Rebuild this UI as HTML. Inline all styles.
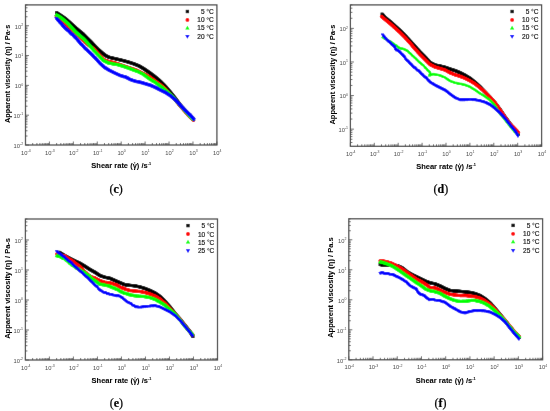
<!DOCTYPE html><html><head><meta charset="utf-8"><style>html,body{margin:0;padding:0;background:#fff;}body{width:550px;height:411px;overflow:hidden;position:relative;}#w{position:absolute;left:0;top:0;width:550px;height:411px;}svg{position:absolute;left:0;top:0;}text{font-family:"Liberation Sans",sans-serif;}</style></head><body>
<div id="w"><svg width="550" height="411" viewBox="0 0 550 411">
<defs><marker id="mck" markerUnits="userSpaceOnUse" markerWidth="10" markerHeight="10" refX="5" refY="5" overflow="visible"><rect x="3.55" y="3.55" width="2.9" height="2.9" fill="#000"/></marker><marker id="mcr" markerUnits="userSpaceOnUse" markerWidth="10" markerHeight="10" refX="5" refY="5" overflow="visible"><circle cx="5" cy="5" r="1.65" fill="#f00"/></marker><marker id="mcg" markerUnits="userSpaceOnUse" markerWidth="10" markerHeight="10" refX="5" refY="5" overflow="visible"><path d="M5 2.7484L6.95 6.1258H3.05Z" fill="#0f0"/></marker><marker id="mcb" markerUnits="userSpaceOnUse" markerWidth="10" markerHeight="10" refX="5" refY="5" overflow="visible"><path d="M5 7.2516L6.95 3.8742H3.05Z" fill="#00f"/></marker><marker id="mdk" markerUnits="userSpaceOnUse" markerWidth="10" markerHeight="10" refX="5" refY="5" overflow="visible"><rect x="3.55" y="3.55" width="2.9" height="2.9" fill="#000"/></marker><marker id="mdr" markerUnits="userSpaceOnUse" markerWidth="10" markerHeight="10" refX="5" refY="5" overflow="visible"><circle cx="5" cy="5" r="1.65" fill="#f00"/></marker><marker id="mdg" markerUnits="userSpaceOnUse" markerWidth="10" markerHeight="10" refX="5" refY="5" overflow="visible"><path d="M5 3.383466666666667L6.4 5.8082666666666665H3.6Z" fill="#0f0"/></marker><marker id="mdb" markerUnits="userSpaceOnUse" markerWidth="10" markerHeight="10" refX="5" refY="5" overflow="visible"><path d="M5 6.9052L6.65 4.0474H3.35Z" fill="#00f"/></marker><marker id="mek" markerUnits="userSpaceOnUse" markerWidth="10" markerHeight="10" refX="5" refY="5" overflow="visible"><rect x="3.55" y="3.55" width="2.9" height="2.9" fill="#000"/></marker><marker id="mer" markerUnits="userSpaceOnUse" markerWidth="10" markerHeight="10" refX="5" refY="5" overflow="visible"><circle cx="5" cy="5" r="1.65" fill="#f00"/></marker><marker id="meg" markerUnits="userSpaceOnUse" markerWidth="10" markerHeight="10" refX="5" refY="5" overflow="visible"><path d="M5 2.7484L6.95 6.1258H3.05Z" fill="#0f0"/></marker><marker id="meb" markerUnits="userSpaceOnUse" markerWidth="10" markerHeight="10" refX="5" refY="5" overflow="visible"><path d="M5 6.847466666666667L6.6 4.076266666666666H3.4Z" fill="#00f"/></marker><marker id="mfk" markerUnits="userSpaceOnUse" markerWidth="10" markerHeight="10" refX="5" refY="5" overflow="visible"><rect x="3.55" y="3.55" width="2.9" height="2.9" fill="#000"/></marker><marker id="mfr" markerUnits="userSpaceOnUse" markerWidth="10" markerHeight="10" refX="5" refY="5" overflow="visible"><circle cx="5" cy="5" r="1.65" fill="#f00"/></marker><marker id="mfg" markerUnits="userSpaceOnUse" markerWidth="10" markerHeight="10" refX="5" refY="5" overflow="visible"><path d="M5 2.7484L6.95 6.1258H3.05Z" fill="#0f0"/></marker><marker id="mfb" markerUnits="userSpaceOnUse" markerWidth="10" markerHeight="10" refX="5" refY="5" overflow="visible"><path d="M5 6.9052L6.65 4.0474H3.35Z" fill="#00f"/></marker><filter id="bl" filterUnits="userSpaceOnUse" x="0" y="0" width="550" height="411"><feConvolveMatrix order="3" kernelMatrix="0.00163 0.03713 0.00163 0.03713 0.84497 0.03713 0.00163 0.03713 0.00163" edgeMode="duplicate" preserveAlpha="true"/></filter><filter id="bt" filterUnits="userSpaceOnUse" x="0" y="0" width="550" height="411"><feConvolveMatrix order="3" kernelMatrix="0.00001 0.00381 0.00001 0.00381 0.98471 0.00381 0.00001 0.00381 0.00001" edgeMode="none" preserveAlpha="false"/></filter></defs><g filter="url(#bl)"><rect width="550" height="411" fill="#fff"/>
<g><polyline fill="none" stroke="none" marker-start="url(#mck)" marker-mid="url(#mck)" marker-end="url(#mck)" points="56.5,12.71 56.98,13.02 57.46,13.33 57.94,13.64 58.42,13.96 58.9,14.27 59.38,14.58 59.86,14.89 60.34,15.2 60.82,15.51 61.3,15.83 61.76,16.15 62.22,16.47 62.69,16.79 63.15,17.11 63.61,17.43 64.08,17.76 64.54,18.08 65,18.4 65.45,18.78 65.9,19.17 66.35,19.55 66.8,19.94 67.25,20.32 67.7,20.7 68.15,21.09 68.6,21.47 69,21.84 69.4,22.2 69.8,22.56 70.2,22.93 70.6,23.29 71,23.65 71.4,24.02 71.8,24.38 72.2,24.74 72.61,25.12 73.02,25.49 73.43,25.87 73.84,26.24 74.26,26.62 74.67,26.99 75.08,27.37 75.49,27.74 75.9,28.12 76.35,28.49 76.8,28.86 77.25,29.23 77.7,29.6 78.15,29.98 78.6,30.35 79.05,30.72 79.5,31.09 79.91,31.43 80.32,31.77 80.73,32.11 81.14,32.46 81.56,32.8 81.97,33.14 82.38,33.48 82.79,33.82 83.2,34.16 83.61,34.58 84.02,35 84.43,35.42 84.84,35.84 85.25,36.25 85.66,36.67 86.07,37.09 86.48,37.51 86.89,37.93 87.3,38.35 87.71,38.74 88.12,39.14 88.53,39.54 88.94,39.93 89.36,40.33 89.77,40.72 90.18,41.12 90.59,41.52 91,41.91 91.4,42.35 91.8,42.79 92.2,43.23 92.6,43.67 93,44.11 93.4,44.55 93.8,44.98 94.2,45.42 94.6,45.86 95,46.27 95.4,46.67 95.8,47.08 96.2,47.48 96.6,47.89 97,48.29 97.4,48.7 97.8,49.1 98.2,49.51 98.62,49.87 99.04,50.23 99.47,50.59 99.89,50.95 100.31,51.32 100.73,51.68 101.16,52.04 101.58,52.4 102,52.76 102.44,53.11 102.88,53.46 103.31,53.81 103.75,54.16 104.19,54.51 104.62,54.86 105.06,55.21 105.5,55.56 106,55.8 106.5,56.04 107,56.29 107.5,56.53 108,56.77 108.5,57.01 109,57.26 109.56,57.39 110.11,57.52 110.67,57.65 111.22,57.78 111.78,57.91 112.33,58.04 112.89,58.18 113.44,58.31 114,58.44 114.56,58.57 115.11,58.69 115.67,58.82 116.22,58.95 116.78,59.08 117.33,59.2 117.89,59.33 118.44,59.46 119,59.58 119.56,59.72 120.11,59.86 120.67,60 121.22,60.14 121.78,60.28 122.33,60.42 122.89,60.55 123.44,60.69 124,60.83 124.56,60.99 125.11,61.15 125.67,61.3 126.22,61.46 126.78,61.62 127.33,61.78 127.89,61.94 128.44,62.09 129,62.25 129.56,62.43 130.11,62.62 130.67,62.8 131.22,62.98 131.78,63.16 132.33,63.35 132.89,63.53 133.44,63.71 134,63.89 134.5,64.1 135,64.3 135.5,64.5 136,64.71 136.5,64.91 137,65.12 137.5,65.32 138,65.52 138.5,65.73 139,65.93 139.5,66.23 140,66.52 140.5,66.81 141,67.11 141.5,67.4 142,67.7 142.5,67.99 143,68.28 143.5,68.58 144,68.87 144.46,69.19 144.92,69.51 145.38,69.82 145.85,70.14 146.31,70.46 146.77,70.78 147.23,71.09 147.69,71.41 148.15,71.73 148.62,72.05 149.08,72.36 149.54,72.68 150,73 150.45,73.34 150.91,73.68 151.36,74.02 151.82,74.36 152.27,74.7 152.73,75.05 153.18,75.39 153.64,75.73 154.09,76.07 154.55,76.41 155,76.75 155.45,77.14 155.91,77.52 156.36,77.91 156.82,78.3 157.27,78.68 157.73,79.07 158.18,79.45 158.64,79.84 159.09,80.23 159.55,80.61 160,81 160.42,81.42 160.83,81.83 161.25,82.25 161.67,82.67 162.08,83.08 162.5,83.5 162.92,83.92 163.33,84.33 163.75,84.75 164.17,85.17 164.58,85.58 165,86 165.38,86.45 165.77,86.89 166.15,87.34 166.54,87.78 166.92,88.23 167.31,88.67 167.69,89.12 168.08,89.56 168.46,90.01 168.85,90.45 169.23,90.9 169.62,91.34 170,91.79 170.36,92.23 170.71,92.67 171.07,93.12 171.43,93.56 171.79,94.01 172.14,94.45 172.5,94.89 172.86,95.34 173.21,95.78 173.57,96.22 173.93,96.67 174.29,97.11 174.64,97.56 175,98 175.36,98.48 175.71,98.96 176.07,99.44 176.43,99.91 176.79,100.39 177.14,100.87 177.5,101.35 177.86,101.83 178.21,102.31 178.57,102.79 178.93,103.26 179.29,103.74 179.64,104.22 180,104.7 180.38,105.15 180.77,105.59 181.15,106.04 181.54,106.48 181.92,106.93 182.31,107.38 182.69,107.82 183.08,108.27 183.46,108.72 183.85,109.16 184.23,109.61 184.62,110.05 185,110.5 185.38,110.92 185.77,111.35 186.15,111.77 186.54,112.19 186.92,112.62 187.31,113.04 187.69,113.46 188.08,113.88 188.46,114.31 188.85,114.73 189.23,115.15 189.62,115.58 190,116 190.39,116.37 190.78,116.73 191.17,117.1 191.56,117.47 191.94,117.83 192.33,118.2 192.72,118.57 193.11,118.93 193.5,119.3"/><polyline fill="none" stroke="none" marker-start="url(#mcr)" marker-mid="url(#mcr)" marker-end="url(#mcr)" points="56.2,16.12 56.66,16.48 57.13,16.83 57.59,17.19 58.05,17.55 58.52,17.93 58.98,18.32 59.45,18.73 59.91,19.01 60.37,19.24 60.84,19.43 61.3,19.96 61.71,20.5 62.12,21.05 62.53,21.46 62.94,21.84 63.36,22.22 63.77,22.54 64.18,22.74 64.59,22.95 65,23.16 65.4,23.53 65.8,23.9 66.2,24.27 66.6,24.71 67,25.22 67.4,25.73 67.8,26.24 68.2,26.5 68.6,26.76 69,27.02 69.4,27.35 69.8,27.76 70.2,28.17 70.6,28.58 71,28.93 71.4,29.27 71.8,29.62 72.2,29.97 72.61,30.36 73.02,30.74 73.43,31.12 73.84,31.5 74.26,31.88 74.67,32.26 75.08,32.62 75.49,32.98 75.9,33.34 76.31,33.7 76.72,34.13 77.13,34.55 77.54,34.97 77.95,35.3 78.36,35.62 78.77,35.94 79.18,36.32 79.59,36.8 80,37.27 80.41,37.77 80.82,38.06 81.24,38.36 81.65,38.65 82.06,39.06 82.47,39.55 82.88,40.04 83.29,40.5 83.71,40.84 84.12,41.19 84.53,41.53 84.94,41.9 85.35,42.27 85.76,42.65 86.18,43.03 86.59,43.42 87,43.81 87.47,44.16 87.93,44.54 88.4,44.91 88.87,45.25 89.33,45.55 89.8,45.89 90.27,46.26 90.73,46.61 91.2,46.96 91.67,47.31 92.13,47.66 92.6,48.01 93.07,48.36 93.53,48.71 94,49.06 94.38,49.48 94.77,49.9 95.15,50.32 95.54,50.74 95.92,51.16 96.31,51.58 96.69,52 97.08,52.42 97.46,52.84 97.85,53.26 98.23,53.68 98.62,54.1 99,54.52 99.42,54.94 99.83,55.37 100.25,55.8 100.67,56.23 101.08,56.66 101.5,57.09 101.92,57.52 102.33,57.95 102.75,58.38 103.17,58.81 103.58,59.24 104,59.67 104.56,59.88 105.11,60.1 105.67,60.31 106.22,60.53 106.78,60.74 107.33,60.96 107.89,61.17 108.44,61.39 109,61.6 109.56,61.71 110.11,61.82 110.67,61.93 111.22,62.04 111.78,62.16 112.33,62.27 112.89,62.38 113.44,62.49 114,62.6 114.55,62.78 115.09,62.97 115.64,63.15 116.18,63.33 116.73,63.52 117.27,63.7 117.82,63.89 118.36,64.07 118.91,64.25 119.45,64.44 120,64.62 120.56,64.81 121.11,65 121.67,65.19 122.22,65.38 122.78,65.58 123.33,65.77 123.89,65.96 124.44,66.15 125,66.34 125.56,66.52 126.11,66.7 126.67,66.88 127.22,67.06 127.78,67.24 128.33,67.42 128.89,67.6 129.44,67.78 130,67.96 130.56,68.14 131.11,68.32 131.67,68.5 132.22,68.68 132.78,68.86 133.33,69.04 133.89,69.22 134.44,69.4 135,69.58 135.5,69.8 136,70.02 136.5,70.25 137,70.47 137.5,70.69 138,70.91 138.5,71.13 139,71.36 139.5,71.58 140,71.8 140.5,72.07 141,72.33 141.5,72.6 142,72.87 142.5,73.14 143,73.41 143.5,73.67 144,73.94 144.5,74.21 145,74.47 145.5,74.74 146,75.01 146.5,75.28 147,75.55 147.5,75.81 148,76.08 148.5,76.35 149,76.62 149.5,76.88 150,77.15 150.45,77.48 150.91,77.82 151.36,78.15 151.82,78.49 152.27,78.82 152.73,79.15 153.18,79.49 153.64,79.82 154.09,80.16 154.55,80.49 155,80.83 155.45,81.16 155.91,81.49 156.36,81.83 156.82,82.16 157.27,82.5 157.73,82.83 158.18,83.16 158.64,83.5 159.09,83.83 159.55,84.17 160,84.5 160.45,84.87 160.91,85.24 161.36,85.61 161.82,85.98 162.27,86.36 162.73,86.73 163.18,87.1 163.64,87.47 164.09,87.84 164.55,88.21 165,88.58 165.38,89 165.77,89.42 166.15,89.84 166.54,90.26 166.92,90.68 167.31,91.1 167.69,91.52 168.08,91.94 168.46,92.36 168.85,92.78 169.23,93.19 169.62,93.61 170,94.03 170.38,94.45 170.77,94.87 171.15,95.29 171.54,95.71 171.92,96.13 172.31,96.55 172.69,96.97 173.08,97.39 173.46,97.81 173.85,98.23 174.23,98.65 174.62,99.07 175,99.49 175.36,99.94 175.71,100.39 176.07,100.84 176.43,101.29 176.79,101.74 177.14,102.19 177.5,102.64 177.86,103.09 178.21,103.55 178.57,104 178.93,104.45 179.29,104.9 179.64,105.35 180,105.8 180.38,106.24 180.77,106.68 181.15,107.12 181.54,107.55 181.92,107.99 182.31,108.43 182.69,108.87 183.08,109.31 183.46,109.75 183.85,110.18 184.23,110.62 184.62,111.06 185,111.5 185.38,111.92 185.77,112.35 186.15,112.77 186.54,113.19 186.92,113.62 187.31,114.04 187.69,114.46 188.08,114.88 188.46,115.31 188.85,115.73 189.23,116.15 189.62,116.58 190,117 190.39,117.37 190.78,117.73 191.17,118.1 191.56,118.47 191.94,118.83 192.33,119.2 192.72,119.57 193.11,119.93 193.5,120.3"/><polyline fill="none" stroke="none" marker-start="url(#mcg)" marker-mid="url(#mcg)" marker-end="url(#mcg)" points="56.2,14.87 56.71,15.15 57.22,15.44 57.73,15.73 58.24,16.01 58.75,16.3 59.26,16.59 59.77,16.87 60.28,17.16 60.79,17.45 61.3,17.73 61.71,18.08 62.12,18.42 62.53,18.76 62.94,19.11 63.36,19.45 63.77,19.79 64.18,20.14 64.59,20.48 65,20.82 65.45,21.21 65.9,21.6 66.35,21.98 66.8,22.37 67.25,22.76 67.7,23.14 68.15,23.53 68.6,23.91 68.96,24.32 69.32,24.73 69.68,25.14 70.04,25.55 70.4,25.96 70.76,26.37 71.12,26.78 71.48,27.19 71.84,27.6 72.2,28 72.57,28.41 72.94,28.82 73.31,29.23 73.68,29.64 74.05,30.05 74.42,30.46 74.79,30.87 75.16,31.28 75.53,31.69 75.9,32.1 76.31,32.46 76.72,32.82 77.13,33.18 77.54,33.54 77.95,33.9 78.36,34.26 78.77,34.62 79.18,34.98 79.59,35.34 80,35.7 80.44,36.07 80.89,36.43 81.33,36.8 81.78,37.17 82.22,37.53 82.67,37.9 83.11,38.27 83.56,38.63 84,39 84.4,39.43 84.8,39.86 85.2,40.29 85.6,40.72 86,41.15 86.4,41.58 86.8,42.01 87.2,42.44 87.6,42.87 88,43.3 88.39,43.75 88.78,44.2 89.16,44.65 89.55,45.1 89.94,45.55 90.33,46 90.72,46.45 91.11,46.9 91.49,47.36 91.88,47.81 92.27,48.26 92.66,48.71 93.05,49.16 93.44,49.61 93.82,50.06 94.21,50.51 94.6,50.96 95,51.37 95.4,51.78 95.8,52.2 96.2,52.61 96.6,53.02 97,53.43 97.4,53.84 97.8,54.26 98.2,54.67 98.6,55.08 99,55.49 99.38,55.91 99.77,56.33 100.15,56.74 100.54,57.16 100.92,57.58 101.31,58 101.69,58.41 102.08,58.83 102.46,59.25 102.85,59.66 103.23,60.08 103.62,60.5 104,60.92 104.5,61.15 105,61.38 105.5,61.62 106,61.85 106.5,62.09 107,62.32 107.5,62.56 108,62.79 108.5,63.03 109,63.26 109.56,63.37 110.11,63.48 110.67,63.59 111.22,63.7 111.78,63.82 112.33,63.93 112.89,64.04 113.44,64.15 114,64.26 114.56,64.36 115.11,64.46 115.67,64.56 116.22,64.66 116.78,64.76 117.33,64.86 117.89,64.96 118.44,65.06 119,65.16 119.56,65.33 120.11,65.5 120.67,65.67 121.22,65.84 121.78,66.01 122.33,66.19 122.89,66.36 123.44,66.53 124,66.7 124.56,66.89 125.11,67.08 125.67,67.27 126.22,67.46 126.78,67.64 127.33,67.83 127.89,68.02 128.44,68.21 129,68.4 129.56,68.61 130.11,68.81 130.67,69.02 131.22,69.23 131.78,69.43 132.33,69.64 132.89,69.85 133.44,70.05 134,70.26 134.56,70.48 135.11,70.69 135.67,70.91 136.22,71.13 136.78,71.34 137.33,71.56 137.89,71.78 138.44,71.99 139,72.21 139.5,72.46 140,72.72 140.5,72.97 141,73.22 141.5,73.47 142,73.73 142.5,73.98 143,74.23 143.5,74.49 144,74.74 144.46,75.08 144.92,75.43 145.38,75.77 145.85,76.11 146.31,76.46 146.77,76.8 147.23,77.14 147.69,77.48 148.15,77.83 148.62,78.17 149.08,78.51 149.54,78.86 150,79.2 150.5,79.5 151,79.8 151.5,80.1 152,80.4 152.5,80.7 153,81 153.5,81.3 154,81.6 154.5,81.9 155,82.2 155.45,82.52 155.91,82.85 156.36,83.17 156.82,83.49 157.27,83.81 157.73,84.14 158.18,84.46 158.64,84.78 159.09,85.1 159.55,85.43 160,85.75 160.45,86.09 160.91,86.43 161.36,86.77 161.82,87.11 162.27,87.45 162.73,87.8 163.18,88.14 163.64,88.48 164.09,88.82 164.55,89.16 165,89.5 165.42,89.88 165.83,90.26 166.25,90.64 166.67,91.02 167.08,91.4 167.5,91.78 167.92,92.16 168.33,92.54 168.75,92.92 169.17,93.3 169.58,93.68 170,94.06 170.42,94.47 170.83,94.88 171.25,95.29 171.67,95.7 172.08,96.12 172.5,96.53 172.92,96.94 173.33,97.35 173.75,97.76 174.17,98.18 174.58,98.59 175,99 175.36,99.43 175.71,99.86 176.07,100.29 176.43,100.71 176.79,101.14 177.14,101.57 177.5,102 177.86,102.43 178.21,102.86 178.57,103.29 178.93,103.71 179.29,104.14 179.64,104.57 180,105 180.38,105.42 180.77,105.85 181.15,106.27 181.54,106.69 181.92,107.12 182.31,107.54 182.69,107.96 183.08,108.38 183.46,108.81 183.85,109.23 184.23,109.65 184.62,110.08 185,110.5 185.38,110.92 185.77,111.35 186.15,111.77 186.54,112.19 186.92,112.62 187.31,113.04 187.69,113.46 188.08,113.88 188.46,114.31 188.85,114.73 189.23,115.15 189.62,115.58 190,116 190.39,116.4 190.78,116.8 191.17,117.2 191.56,117.6 191.94,118 192.33,118.4 192.72,118.8 193.11,119.2 193.5,119.6"/><polyline fill="none" stroke="none" marker-start="url(#mcb)" marker-mid="url(#mcb)" marker-end="url(#mcb)" points="56.2,18.37 56.59,18.8 56.98,19.24 57.38,19.68 57.77,20.11 58.16,20.55 58.55,20.98 58.95,21.45 59.34,21.93 59.73,22.34 60.12,22.71 60.52,23.04 60.91,23.41 61.3,23.94 61.67,24.46 62.04,24.97 62.41,25.42 62.78,25.82 63.15,26.21 63.52,26.61 63.89,27 64.26,27.39 64.63,27.77 65,28.16 65.45,28.54 65.9,28.91 66.35,29.28 66.8,29.64 67.25,29.98 67.7,30.33 68.15,30.78 68.6,31.25 69.05,31.72 69.5,32.2 69.95,32.68 70.4,33.16 70.85,33.52 71.3,33.78 71.75,34.04 72.2,34.4 72.58,34.89 72.96,35.37 73.34,35.86 73.72,36.23 74.1,36.57 74.48,36.92 74.86,37.26 75.24,37.62 75.62,37.98 76,38.34 76.36,38.76 76.73,39.23 77.09,39.7 77.45,40.17 77.82,40.59 78.18,40.96 78.55,41.34 78.91,41.71 79.27,42.19 79.64,42.7 80,43.21 80.41,43.72 80.81,44.04 81.22,44.35 81.62,44.66 82.03,45.07 82.43,45.54 82.84,46.02 83.24,46.49 83.65,46.96 84.06,47.43 84.46,47.89 84.87,48.25 85.27,48.55 85.68,48.85 86.08,49.18 86.49,49.6 86.89,50.02 87.3,50.44 87.73,50.85 88.16,51.28 88.59,51.7 89.02,52.09 89.45,52.47 89.88,52.84 90.31,53.23 90.74,53.66 91.16,54.1 91.59,54.53 92.02,55 92.45,55.47 92.88,55.94 93.31,56.37 93.74,56.78 94.17,57.19 94.6,57.55 94.97,57.92 95.33,58.28 95.7,58.65 96.07,59.07 96.43,59.51 96.8,59.95 97.17,60.39 97.53,60.78 97.9,61.18 98.27,61.59 98.63,62.03 99,62.52 99.42,62.93 99.83,63.32 100.25,63.7 100.67,64.08 101.08,64.45 101.5,64.83 101.92,65.21 102.33,65.59 102.75,65.97 103.17,66.34 103.58,66.72 104,67.1 104.5,67.4 105,67.7 105.5,68 106,68.3 106.5,68.6 107,68.9 107.5,69.2 108,69.5 108.5,69.8 109,70.1 109.5,70.35 110,70.6 110.5,70.85 111,71.1 111.5,71.35 112,71.6 112.5,71.85 113,72.1 113.5,72.35 114,72.6 114.55,72.85 115.09,73.09 115.64,73.34 116.18,73.58 116.73,73.83 117.27,74.07 117.82,74.32 118.36,74.56 118.91,74.81 119.45,75.05 120,75.3 120.56,75.46 121.11,75.62 121.67,75.78 122.22,75.94 122.78,76.1 123.33,76.26 123.89,76.41 124.44,76.57 125,76.73 125.5,76.99 126,77.24 126.5,77.49 127,77.75 127.5,78 128,78.25 128.5,78.51 129,78.76 129.5,79.01 130,79.27 130.56,79.46 131.11,79.65 131.67,79.84 132.22,80.04 132.78,80.23 133.33,80.42 133.89,80.61 134.44,80.81 135,81 135.56,81.11 136.11,81.22 136.67,81.33 137.22,81.44 137.78,81.56 138.33,81.67 138.89,81.78 139.44,81.89 140,82 140.56,82.17 141.11,82.33 141.67,82.5 142.22,82.67 142.78,82.83 143.33,83 143.89,83.17 144.44,83.33 145,83.5 145.56,83.67 146.11,83.83 146.67,84 147.22,84.17 147.78,84.33 148.33,84.5 148.89,84.67 149.44,84.83 150,85 150.5,85.22 151,85.44 151.5,85.66 152,85.88 152.5,86.1 153,86.32 153.5,86.54 154,86.76 154.5,86.98 155,87.2 155.5,87.46 156,87.72 156.5,87.98 157,88.24 157.5,88.5 158,88.76 158.5,89.02 159,89.28 159.5,89.54 160,89.8 160.5,90.05 161,90.29 161.5,90.53 162,90.78 162.5,91.03 163,91.27 163.5,91.52 164,91.76 164.5,92 165,92.25 165.5,92.58 166,92.9 166.5,93.22 167,93.55 167.5,93.88 168,94.2 168.5,94.53 169,94.85 169.5,95.17 170,95.5 170.45,95.89 170.91,96.27 171.36,96.66 171.82,97.05 172.27,97.43 172.73,97.82 173.18,98.2 173.64,98.59 174.09,98.98 174.55,99.36 175,99.75 175.38,100.15 175.77,100.56 176.15,100.96 176.54,101.37 176.92,101.77 177.31,102.17 177.69,102.58 178.08,102.98 178.46,103.38 178.85,103.79 179.23,104.19 179.62,104.6 180,105 180.38,105.41 180.77,105.82 181.15,106.23 181.54,106.64 181.92,107.05 182.31,107.46 182.69,107.87 183.08,108.28 183.46,108.69 183.85,109.1 184.23,109.51 184.62,109.92 185,110.33 185.42,110.72 185.83,111.11 186.25,111.5 186.67,111.89 187.08,112.28 187.5,112.67 187.92,113.06 188.33,113.44 188.75,113.83 189.17,114.22 189.58,114.61 190,115 190.36,115.42 190.73,115.84 191.09,116.25 191.45,116.67 191.82,117.09 192.18,117.51 192.55,117.93 192.91,118.35 193.27,118.76 193.64,119.18 194,119.6"/><path d="M25.5 145v-3.5M32.7 145v-2M36.92 145v-2M39.9 145v-2M42.22 145v-2M44.12 145v-2M45.72 145v-2M47.11 145v-2M48.33 145v-2M49.42 145v-3.5M56.63 145v-2M60.84 145v-2M63.83 145v-2M66.15 145v-2M68.04 145v-2M69.64 145v-2M71.03 145v-2M72.26 145v-2M73.35 145v-3.5M80.55 145v-2M84.77 145v-2M87.75 145v-2M90.07 145v-2M91.97 145v-2M93.57 145v-2M94.96 145v-2M96.18 145v-2M97.28 145v-3.5M104.48 145v-2M108.69 145v-2M111.68 145v-2M114 145v-2M115.89 145v-2M117.49 145v-2M118.88 145v-2M120.11 145v-2M121.2 145v-3.5M128.4 145v-2M132.62 145v-2M135.6 145v-2M137.92 145v-2M139.82 145v-2M141.42 145v-2M142.81 145v-2M144.03 145v-2M145.12 145v-3.5M152.33 145v-2M156.54 145v-2M159.53 145v-2M161.85 145v-2M163.74 145v-2M165.34 145v-2M166.73 145v-2M167.96 145v-2M169.05 145v-3.5M176.25 145v-2M180.47 145v-2M183.45 145v-2M185.77 145v-2M187.67 145v-2M189.27 145v-2M190.66 145v-2M191.88 145v-2M192.97 145v-3.5M200.18 145v-2M204.39 145v-2M207.38 145v-2M209.7 145v-2M211.59 145v-2M213.19 145v-2M214.58 145v-2M215.81 145v-2M216.9 145v-3.5M25.5 145h3.5M25.5 136.02h2M25.5 130.77h2M25.5 127.05h2M25.5 124.16h2M25.5 121.8h2M25.5 119.8h2M25.5 118.07h2M25.5 116.55h2M25.5 115.18h3.5M25.5 106.21h2M25.5 100.96h2M25.5 97.23h2M25.5 94.35h2M25.5 91.98h2M25.5 89.99h2M25.5 88.26h2M25.5 86.73h2M25.5 85.37h3.5M25.5 76.39h2M25.5 71.14h2M25.5 67.42h2M25.5 64.53h2M25.5 62.17h2M25.5 60.17h2M25.5 58.44h2M25.5 56.92h2M25.5 55.55h3.5M25.5 46.58h2M25.5 41.33h2M25.5 37.6h2M25.5 34.72h2M25.5 32.35h2M25.5 30.36h2M25.5 28.63h2M25.5 27.1h2M25.5 25.74h3.5M25.5 16.76h2M25.5 11.51h2M25.5 7.79h2M25.5 4.9h2" stroke="#454545" stroke-width="0.8" fill="none"/><rect x="25.5" y="4.9" width="191.4" height="140.1" fill="none" stroke="#454545" stroke-width="1.25"/><rect x="185.75" y="9.85" width="3.3" height="3.3" fill="#000"/><circle cx="187.4" cy="19.9" r="1.9" fill="#f00"/><path d="M187.4 25.67l2.15 3.72h-4.29z" fill="#0f0"/><path d="M187.4 38.83l2.15 -3.72h-4.29z" fill="#00f"/></g>
<g><polyline fill="none" stroke="none" marker-start="url(#mdk)" marker-mid="url(#mdk)" marker-end="url(#mdk)" points="382,14 382.38,14.44 382.75,14.88 383.12,15.31 383.5,15.75 383.88,16.19 384.25,16.62 384.62,17.06 385,17.5 385.45,17.86 385.91,18.23 386.36,18.59 386.82,18.95 387.27,19.32 387.73,19.68 388.18,20.05 388.64,20.41 389.09,20.77 389.55,21.14 390,21.5 390.42,21.88 390.83,22.25 391.25,22.62 391.67,23 392.08,23.38 392.5,23.75 392.92,24.12 393.33,24.5 393.75,24.88 394.17,25.25 394.58,25.62 395,26 395.42,26.38 395.83,26.75 396.25,27.12 396.67,27.5 397.08,27.88 397.5,28.25 397.92,28.62 398.33,29 398.75,29.38 399.17,29.75 399.58,30.12 400,30.5 400.42,30.92 400.83,31.33 401.25,31.75 401.67,32.17 402.08,32.58 402.5,33 402.92,33.42 403.33,33.83 403.75,34.25 404.17,34.67 404.58,35.08 405,35.5 405.38,35.92 405.77,36.35 406.15,36.77 406.54,37.19 406.92,37.62 407.31,38.04 407.69,38.46 408.08,38.88 408.46,39.31 408.85,39.73 409.23,40.15 409.62,40.58 410,41 410.38,41.42 410.77,41.85 411.15,42.27 411.54,42.69 411.92,43.12 412.31,43.54 412.69,43.96 413.08,44.38 413.46,44.81 413.85,45.23 414.23,45.65 414.62,46.08 415,46.5 415.38,46.92 415.77,47.35 416.15,47.77 416.54,48.19 416.92,48.62 417.31,49.04 417.69,49.46 418.08,49.88 418.46,50.31 418.85,50.73 419.23,51.15 419.62,51.58 420,52 420.42,52.42 420.83,52.83 421.25,53.25 421.67,53.67 422.08,54.08 422.5,54.5 422.92,54.92 423.33,55.33 423.75,55.75 424.17,56.17 424.58,56.58 425,57 425.38,57.42 425.77,57.85 426.15,58.27 426.54,58.69 426.92,59.12 427.31,59.54 427.69,59.96 428.08,60.38 428.46,60.81 428.85,61.23 429.23,61.65 429.62,62.08 430,62.5 430.5,62.75 431,63 431.5,63.25 432,63.5 432.5,63.75 433,64 433.5,64.25 434,64.5 434.5,64.75 435,65 435.56,65.11 436.11,65.22 436.67,65.33 437.22,65.44 437.78,65.56 438.33,65.67 438.89,65.78 439.44,65.89 440,66 440.56,66.14 441.11,66.28 441.67,66.42 442.22,66.56 442.78,66.69 443.33,66.83 443.89,66.97 444.44,67.11 445,67.25 445.56,67.44 446.11,67.64 446.67,67.83 447.22,68.03 447.78,68.22 448.33,68.42 448.89,68.61 449.44,68.81 450,69 450.56,69.17 451.11,69.35 451.67,69.53 452.22,69.7 452.78,69.88 453.33,70.05 453.89,70.23 454.44,70.4 455,70.58 455.5,70.78 456,70.99 456.5,71.2 457,71.41 457.5,71.61 458,71.82 458.5,72.03 459,72.23 459.5,72.44 460,72.65 460.5,72.91 461,73.17 461.5,73.42 462,73.68 462.5,73.94 463,74.19 463.5,74.45 464,74.71 464.5,74.97 465,75.22 465.5,75.53 466,75.84 466.5,76.15 467,76.45 467.5,76.76 468,77.07 468.5,77.38 469,77.69 469.5,77.99 470,78.3 470.45,78.66 470.91,79.03 471.36,79.39 471.82,79.75 472.27,80.12 472.73,80.48 473.18,80.85 473.64,81.21 474.09,81.57 474.55,81.94 475,82.3 475.42,82.67 475.83,83.05 476.25,83.42 476.67,83.8 477.08,84.17 477.5,84.55 477.92,84.92 478.33,85.3 478.75,85.67 479.17,86.05 479.58,86.42 480,86.8 480.38,87.2 480.77,87.61 481.15,88.01 481.54,88.41 481.92,88.81 482.31,89.22 482.69,89.62 483.08,90.02 483.46,90.42 483.85,90.83 484.23,91.23 484.62,91.63 485,92.03 485.38,92.44 485.77,92.84 486.15,93.24 486.54,93.64 486.92,94.05 487.31,94.45 487.69,94.85 488.08,95.25 488.46,95.66 488.85,96.06 489.23,96.46 489.62,96.86 490,97.27 490.38,97.71 490.77,98.15 491.15,98.59 491.54,99.03 491.92,99.47 492.31,99.91 492.69,100.35 493.08,100.79 493.46,101.24 493.85,101.68 494.23,102.12 494.62,102.56 495,103 495.36,103.46 495.71,103.93 496.07,104.39 496.43,104.86 496.79,105.32 497.14,105.79 497.5,106.25 497.86,106.71 498.21,107.18 498.57,107.64 498.93,108.11 499.29,108.57 499.64,109.04 500,109.5 500.31,109.97 500.62,110.44 500.94,110.91 501.25,111.38 501.56,111.84 501.88,112.31 502.19,112.78 502.5,113.25 502.81,113.72 503.12,114.19 503.44,114.66 503.75,115.12 504.06,115.59 504.38,116.06 504.69,116.53 505,117 505.33,117.45 505.67,117.91 506,118.36 506.33,118.82 506.67,119.27 507,119.72 507.33,120.18 507.67,120.63 508,121.08 508.33,121.54 508.67,121.99 509,122.45 509.33,122.9 509.67,123.35 510,123.81 510.36,124.26 510.71,124.71 511.07,125.16 511.43,125.61 511.79,126.06 512.14,126.51 512.5,126.96 512.86,127.41 513.21,127.86 513.57,128.31 513.93,128.76 514.29,129.21 514.64,129.66 515,130.12 515.35,130.55 515.7,130.99 516.05,131.43 516.4,131.87 516.75,132.31 517.1,132.75 517.45,133.18 517.8,133.62 518.15,134.06 518.5,134.5"/><polyline fill="none" stroke="none" marker-start="url(#mdr)" marker-mid="url(#mdr)" marker-end="url(#mdr)" points="381.5,16.5 381.94,16.88 382.38,17.25 382.81,17.62 383.25,18 383.69,18.38 384.12,18.75 384.56,19.12 385,19.5 385.45,19.86 385.91,20.23 386.36,20.59 386.82,20.95 387.27,21.32 387.73,21.68 388.18,22.05 388.64,22.41 389.09,22.77 389.55,23.14 390,23.5 390.42,23.88 390.83,24.25 391.25,24.62 391.67,25 392.08,25.38 392.5,25.75 392.92,26.12 393.33,26.5 393.75,26.88 394.17,27.25 394.58,27.62 395,28 395.42,28.38 395.83,28.75 396.25,29.12 396.67,29.5 397.08,29.88 397.5,30.25 397.92,30.62 398.33,31 398.75,31.38 399.17,31.75 399.58,32.12 400,32.5 400.42,32.92 400.83,33.33 401.25,33.75 401.67,34.17 402.08,34.58 402.5,35 402.92,35.42 403.33,35.83 403.75,36.25 404.17,36.67 404.58,37.08 405,37.5 405.38,37.92 405.77,38.35 406.15,38.77 406.54,39.19 406.92,39.62 407.31,40.04 407.69,40.46 408.08,40.88 408.46,41.31 408.85,41.73 409.23,42.15 409.62,42.58 410,43 410.36,43.43 410.71,43.86 411.07,44.29 411.43,44.71 411.79,45.14 412.14,45.57 412.5,46 412.86,46.43 413.21,46.86 413.57,47.29 413.93,47.71 414.29,48.14 414.64,48.57 415,49 415.38,49.42 415.77,49.85 416.15,50.27 416.54,50.69 416.92,51.12 417.31,51.54 417.69,51.96 418.08,52.38 418.46,52.81 418.85,53.23 419.23,53.65 419.62,54.08 420,54.5 420.42,54.92 420.83,55.33 421.25,55.75 421.67,56.17 422.08,56.58 422.5,57 422.92,57.42 423.33,57.83 423.75,58.25 424.17,58.67 424.58,59.08 425,59.5 425.42,59.92 425.83,60.33 426.25,60.75 426.67,61.17 427.08,61.58 427.5,62 427.92,62.42 428.33,62.83 428.75,63.25 429.17,63.67 429.58,64.08 430,64.5 430.5,64.75 431,65 431.5,65.25 432,65.5 432.5,65.75 433,66 433.5,66.25 434,66.5 434.5,66.75 435,67 435.56,67.17 436.11,67.33 436.67,67.5 437.22,67.67 437.78,67.83 438.33,68 438.89,68.17 439.44,68.33 440,68.5 440.56,68.67 441.11,68.83 441.67,69 442.22,69.17 442.78,69.33 443.33,69.5 443.89,69.67 444.44,69.83 445,70 445.5,70.28 446,70.56 446.5,70.84 447,71.12 447.5,71.4 448,71.68 448.5,71.96 449,72.24 449.5,72.52 450,72.8 450.56,73.02 451.11,73.24 451.67,73.47 452.22,73.69 452.78,73.91 453.33,74.13 453.89,74.36 454.44,74.58 455,74.8 455.56,74.97 456.11,75.13 456.67,75.3 457.22,75.47 457.78,75.63 458.33,75.8 458.89,75.97 459.44,76.13 460,76.3 460.56,76.52 461.11,76.74 461.67,76.97 462.22,77.19 462.78,77.41 463.33,77.63 463.89,77.86 464.44,78.08 465,78.3 465.5,78.55 466,78.8 466.5,79.05 467,79.3 467.5,79.55 468,79.8 468.5,80.05 469,80.3 469.5,80.55 470,80.8 470.5,81.1 471,81.4 471.5,81.7 472,82 472.5,82.3 473,82.6 473.5,82.9 474,83.2 474.5,83.5 475,83.8 475.45,84.16 475.91,84.53 476.36,84.89 476.82,85.25 477.27,85.62 477.73,85.98 478.18,86.35 478.64,86.71 479.09,87.07 479.55,87.44 480,87.8 480.45,88.16 480.91,88.53 481.36,88.89 481.82,89.25 482.27,89.62 482.73,89.98 483.18,90.35 483.64,90.71 484.09,91.07 484.55,91.44 485,91.8 485.38,92.21 485.77,92.62 486.15,93.03 486.54,93.45 486.92,93.86 487.31,94.27 487.69,94.68 488.08,95.09 488.46,95.5 488.85,95.92 489.23,96.33 489.62,96.74 490,97.15 490.38,97.56 490.77,97.97 491.15,98.38 491.54,98.8 491.92,99.21 492.31,99.62 492.69,100.03 493.08,100.44 493.46,100.85 493.85,101.27 494.23,101.68 494.62,102.09 495,102.5 495.33,102.97 495.67,103.45 496,103.92 496.33,104.39 496.67,104.87 497,105.34 497.33,105.81 497.67,106.29 498,106.76 498.33,107.23 498.67,107.71 499,108.18 499.33,108.65 499.67,109.13 500,109.6 500.31,110.07 500.62,110.54 500.94,111.01 501.25,111.47 501.56,111.94 501.88,112.41 502.19,112.88 502.5,113.35 502.81,113.82 503.12,114.29 503.44,114.76 503.75,115.22 504.06,115.69 504.38,116.16 504.69,116.63 505,117.1 505.36,117.58 505.71,118.06 506.07,118.54 506.43,119.02 506.79,119.5 507.14,119.98 507.5,120.46 507.86,120.94 508.21,121.42 508.57,121.9 508.93,122.38 509.29,122.86 509.64,123.33 510,123.81 510.42,124.21 510.83,124.61 511.25,125.01 511.67,125.41 512.08,125.81 512.5,126.21 512.92,126.61 513.33,127 513.75,127.4 514.17,127.8 514.58,128.2 515,128.6 515.39,129.03 515.78,129.47 516.17,129.9 516.56,130.33 516.94,130.77 517.33,131.2 517.72,131.63 518.11,132.07 518.5,132.5"/><polyline fill="none" stroke="none" marker-start="url(#mdg)" marker-mid="url(#mdg)" marker-end="url(#mdg)" points="382.5,37.3 383,37.54 383.5,37.79 384,38.09 384.5,38.4 385,38.57 385.5,38.75 386,38.96 386.5,39.31 387,39.66 387.5,40.07 388,40.51 388.5,40.96 389,41.21 389.5,41.42 390,41.62 390.45,41.79 390.91,41.97 391.36,42.14 391.82,42.5 392.27,42.88 392.73,43.25 393.18,43.55 393.64,43.84 394.09,44.13 394.55,44.49 395,44.89 395.5,45.27 396,45.5 396.5,45.7 397,45.9 397.5,46.42 398,46.94 398.5,47.42 399,47.7 399.5,47.99 400,48.26 400.56,48.43 401.11,48.6 401.67,48.67 402.22,48.72 402.78,48.82 403.33,49 403.89,49.18 404.44,49.42 405,49.67 405.5,49.88 406,50.17 406.5,50.46 407,50.72 407.5,50.94 408,51.15 408.4,51.6 408.8,52.06 409.2,52.52 409.6,52.98 410,53.26 410.42,53.55 410.83,53.83 411.25,54.24 411.67,54.71 412.08,55.19 412.5,55.63 412.92,55.97 413.33,56.31 413.75,56.66 414.17,57.04 414.58,57.42 415,57.8 415.42,58.17 415.83,58.56 416.25,58.94 416.67,59.34 417.08,59.78 417.5,60.22 417.92,60.65 418.33,61.08 418.75,61.5 419.17,61.93 419.58,62.3 420,62.61 420.42,62.93 420.83,63.25 421.25,63.66 421.67,64.08 422.08,64.49 422.5,64.79 422.92,65.04 423.33,65.29 423.75,65.66 424.17,66.22 424.58,66.78 425,67.34 425.38,67.57 425.75,67.84 426.12,68.17 426.5,68.59 426.88,69.13 427.25,69.63 427.62,70.09 428,70.5 428.44,70.86 428.88,71.22 429.32,71.58 429.76,71.94 430.2,72.3 430.07,72.85 429.93,73.4 429.8,73.95 429.67,74.5 429.53,75.05 429.4,75.6 429.93,75.33 430.47,75.07 431,74.8 431.5,74.65 432,74.5 432.5,74.35 433,74.2 433.5,74.28 434,74.35 434.5,74.42 435,74.5 435.56,74.61 436.11,74.72 436.67,74.83 437.22,74.94 437.78,75.06 438.33,75.17 438.89,75.28 439.44,75.39 440,75.5 440.56,75.72 441.11,75.94 441.67,76.17 442.22,76.39 442.78,76.61 443.33,76.83 443.89,77.06 444.44,77.28 445,77.5 445.45,77.81 445.91,78.12 446.36,78.43 446.82,78.74 447.27,79.05 447.73,79.35 448.18,79.66 448.64,79.97 449.09,80.28 449.55,80.59 450,80.9 450.56,81.12 451.11,81.34 451.67,81.57 452.22,81.79 452.78,82.01 453.33,82.23 453.89,82.46 454.44,82.68 455,82.9 455.56,83.01 456.11,83.12 456.67,83.23 457.22,83.34 457.78,83.46 458.33,83.57 458.89,83.68 459.44,83.79 460,83.9 460.56,84.01 461.11,84.12 461.67,84.23 462.22,84.34 462.78,84.46 463.33,84.57 463.89,84.68 464.44,84.79 465,84.9 465.56,85.12 466.11,85.34 466.67,85.57 467.22,85.79 467.78,86.01 468.33,86.23 468.89,86.46 469.44,86.68 470,86.9 470.5,87.2 471,87.5 471.5,87.8 472,88.1 472.5,88.4 473,88.7 473.5,89 474,89.3 474.5,89.6 475,89.9 475.45,90.22 475.91,90.54 476.36,90.85 476.82,91.17 477.27,91.49 477.73,91.81 478.18,92.13 478.64,92.45 479.09,92.76 479.55,93.08 480,93.4 480.5,93.71 481,94.01 481.5,94.31 482,94.62 482.5,94.93 483,95.23 483.5,95.53 484,95.84 484.5,96.15 485,96.45 485.45,96.77 485.91,97.1 486.36,97.42 486.82,97.74 487.27,98.06 487.73,98.39 488.18,98.71 488.64,99.03 489.09,99.35 489.55,99.68 490,100 490.38,100.42 490.77,100.85 491.15,101.27 491.54,101.69 491.92,102.12 492.31,102.54 492.69,102.96 493.08,103.38 493.46,103.81 493.85,104.23 494.23,104.65 494.62,105.08 495,105.5 495.31,106 495.62,106.5 495.94,107 496.25,107.5 496.56,108 496.88,108.5 497.19,109 497.5,109.5 497.81,110 498.12,110.5 498.44,111 498.75,111.5 499.06,112 499.38,112.5 499.69,113 500,113.5 500.36,113.93 500.71,114.36 501.07,114.79 501.43,115.21 501.79,115.64 502.14,116.07 502.5,116.5 502.86,116.93 503.21,117.36 503.57,117.79 503.93,118.21 504.29,118.64 504.64,119.07 505,119.5 505.36,119.96 505.71,120.43 506.07,120.89 506.43,121.36 506.79,121.82 507.14,122.29 507.5,122.75 507.86,123.21 508.21,123.68 508.57,124.14 508.93,124.61 509.29,125.07 509.64,125.54 510,126 510.36,126.43 510.71,126.86 511.07,127.29 511.43,127.71 511.79,128.14 512.14,128.57 512.5,129 512.86,129.43 513.21,129.86 513.57,130.29 513.93,130.71 514.29,131.14 514.64,131.57 515,132 515.44,132.38 515.88,132.75 516.31,133.12 516.75,133.5 517.19,133.88 517.62,134.25 518.06,134.62 518.5,135"/><polyline fill="none" stroke="none" marker-start="url(#mdb)" marker-mid="url(#mdb)" marker-end="url(#mdb)" points="382.5,34.5 382.81,34.94 383.12,35.39 383.44,35.83 383.75,36.24 384.06,36.62 384.38,36.96 384.69,37.39 385,37.84 385.42,38.28 385.83,38.73 386.25,39.19 386.67,39.65 387.08,40.11 387.5,40.47 387.92,40.78 388.33,41.09 388.75,41.43 389.17,41.8 389.58,42.16 390,42.53 390.45,43.03 390.9,43.53 391.35,44.02 391.8,44.42 392.25,44.8 392.7,45.18 393.15,45.54 393.6,45.9 394.05,46.25 394.5,46.55 394.68,47.06 394.87,47.57 395.05,48.08 395.23,48.6 395.42,49.11 395.6,49.62 396.07,49.67 396.53,49.72 397,49.77 397.43,50.11 397.86,50.45 398.29,50.78 398.71,51.1 399.14,51.41 399.57,51.72 400,52.16 400.42,52.68 400.83,53.2 401.25,53.69 401.67,54.04 402.08,54.38 402.5,54.73 402.75,55.06 403,55.33 403.25,55.6 403.5,55.87 403.8,56.09 404.1,56.42 404.4,56.98 404.7,57.53 405,58.09 405.42,58.76 405.83,59.17 406.25,59.58 406.67,59.99 407.08,60.36 407.5,60.7 407.92,61.04 408.33,61.45 408.75,61.98 409.17,62.52 409.58,63.05 410,63.39 410.42,63.71 410.83,64.02 411.25,64.46 411.67,64.98 412.08,65.51 412.5,66 412.92,66.39 413.33,66.78 413.75,67.17 414.17,67.38 414.58,67.56 415,67.74 415.45,68.15 415.91,68.78 416.36,69.41 416.82,69.8 417.27,69.93 417.73,70.07 418.18,70.34 418.64,70.82 419.09,71.3 419.55,71.79 420,72.3 420.42,72.81 420.83,73.31 421.25,73.62 421.67,73.93 422.08,74.25 422.5,74.67 422.92,75.14 423.33,75.61 423.75,76.03 424.17,76.37 424.58,76.7 425,77.04 425.38,77.28 425.77,77.52 426.15,77.77 426.54,78.14 426.92,78.74 427.31,79.32 427.69,79.86 428.08,80.18 428.46,80.47 428.85,80.79 429.23,81.16 429.62,81.58 430,82 430.5,82.3 431,82.6 431.5,82.9 432,83.2 432.5,83.5 433,83.8 433.5,84.1 434,84.4 434.5,84.7 435,85 435.5,85.25 436,85.5 436.5,85.75 437,86 437.5,86.25 438,86.5 438.5,86.75 439,87 439.5,87.25 440,87.5 440.5,87.75 441,88 441.5,88.25 442,88.5 442.5,88.75 443,89 443.5,89.25 444,89.5 444.5,89.75 445,90 445.45,90.36 445.91,90.73 446.36,91.09 446.82,91.45 447.27,91.82 447.73,92.18 448.18,92.55 448.64,92.91 449.09,93.27 449.55,93.64 450,94 450.45,94.32 450.91,94.64 451.36,94.95 451.82,95.27 452.27,95.59 452.73,95.91 453.18,96.23 453.64,96.55 454.09,96.86 454.55,97.18 455,97.5 455.56,97.72 456.11,97.94 456.67,98.17 457.22,98.39 457.78,98.61 458.33,98.83 458.89,99.06 459.44,99.28 460,99.5 460.56,99.5 461.11,99.5 461.67,99.5 462.22,99.5 462.78,99.5 463.33,99.5 463.89,99.5 464.44,99.5 465,99.5 465.56,99.44 466.11,99.39 466.67,99.33 467.22,99.28 467.78,99.22 468.33,99.17 468.89,99.11 469.44,99.06 470,99 470.56,99.06 471.11,99.11 471.67,99.17 472.22,99.22 472.78,99.28 473.33,99.33 473.89,99.39 474.44,99.44 475,99.5 475.56,99.61 476.11,99.72 476.67,99.83 477.22,99.94 477.78,100.06 478.33,100.17 478.89,100.28 479.44,100.39 480,100.5 480.56,100.67 481.11,100.83 481.67,101 482.22,101.17 482.78,101.33 483.33,101.5 483.89,101.67 484.44,101.83 485,102 485.5,102.25 486,102.5 486.5,102.75 487,103 487.5,103.25 488,103.5 488.5,103.75 489,104 489.5,104.25 490,104.5 490.45,104.86 490.91,105.23 491.36,105.59 491.82,105.95 492.27,106.32 492.73,106.68 493.18,107.05 493.64,107.41 494.09,107.77 494.55,108.14 495,108.5 495.42,108.88 495.83,109.25 496.25,109.62 496.67,110 497.08,110.38 497.5,110.75 497.92,111.12 498.33,111.5 498.75,111.88 499.17,112.25 499.58,112.62 500,113 500.38,113.42 500.77,113.85 501.15,114.27 501.54,114.69 501.92,115.12 502.31,115.54 502.69,115.96 503.08,116.38 503.46,116.81 503.85,117.23 504.23,117.65 504.62,118.08 505,118.5 505.36,118.96 505.71,119.43 506.07,119.89 506.43,120.36 506.79,120.82 507.14,121.29 507.5,121.75 507.86,122.21 508.21,122.68 508.57,123.14 508.93,123.61 509.29,124.07 509.64,124.54 510,125 510.36,125.43 510.71,125.86 511.07,126.29 511.43,126.71 511.79,127.14 512.14,127.57 512.5,128 512.86,128.43 513.21,128.86 513.57,129.29 513.93,129.71 514.29,130.14 514.64,130.57 515,131 515.3,131.5 515.6,132 515.9,132.5 516.2,133 516.5,133.5 516.8,134 517.1,134.5 517.4,135 517.7,135.5 518,136"/><path d="M350.4 146.3v-3.5M357.59 146.3v-2M361.8 146.3v-2M364.79 146.3v-2M367.11 146.3v-2M369 146.3v-2M370.6 146.3v-2M371.98 146.3v-2M373.21 146.3v-2M374.3 146.3v-3.5M381.49 146.3v-2M385.7 146.3v-2M388.69 146.3v-2M391.01 146.3v-2M392.9 146.3v-2M394.5 146.3v-2M395.88 146.3v-2M397.11 146.3v-2M398.2 146.3v-3.5M405.39 146.3v-2M409.6 146.3v-2M412.59 146.3v-2M414.91 146.3v-2M416.8 146.3v-2M418.4 146.3v-2M419.78 146.3v-2M421.01 146.3v-2M422.1 146.3v-3.5M429.29 146.3v-2M433.5 146.3v-2M436.49 146.3v-2M438.81 146.3v-2M440.7 146.3v-2M442.3 146.3v-2M443.68 146.3v-2M444.91 146.3v-2M446 146.3v-3.5M453.19 146.3v-2M457.4 146.3v-2M460.39 146.3v-2M462.71 146.3v-2M464.6 146.3v-2M466.2 146.3v-2M467.58 146.3v-2M468.81 146.3v-2M469.9 146.3v-3.5M477.09 146.3v-2M481.3 146.3v-2M484.29 146.3v-2M486.61 146.3v-2M488.5 146.3v-2M490.1 146.3v-2M491.48 146.3v-2M492.71 146.3v-2M493.8 146.3v-3.5M500.99 146.3v-2M505.2 146.3v-2M508.19 146.3v-2M510.51 146.3v-2M512.4 146.3v-2M514 146.3v-2M515.38 146.3v-2M516.61 146.3v-2M517.7 146.3v-3.5M524.89 146.3v-2M529.1 146.3v-2M532.09 146.3v-2M534.41 146.3v-2M536.3 146.3v-2M537.9 146.3v-2M539.28 146.3v-2M540.51 146.3v-2M541.6 146.3v-3.5M350.4 142.52h2M350.4 139.27h2M350.4 136.61h2M350.4 134.36h2M350.4 132.41h2M350.4 130.69h2M350.4 129.15h3.5M350.4 119.04h2M350.4 113.13h2M350.4 108.93h2M350.4 105.67h2M350.4 103.01h2M350.4 100.77h2M350.4 98.82h2M350.4 97.1h2M350.4 95.56h3.5M350.4 85.45h2M350.4 79.53h2M350.4 75.34h2M350.4 72.08h2M350.4 69.42h2M350.4 67.17h2M350.4 65.23h2M350.4 63.51h2M350.4 61.97h3.5M350.4 51.86h2M350.4 45.94h2M350.4 41.75h2M350.4 38.49h2M350.4 35.83h2M350.4 33.58h2M350.4 31.63h2M350.4 29.92h2M350.4 28.38h3.5M350.4 18.27h2M350.4 12.35h2M350.4 8.16h2M350.4 4.9h2" stroke="#454545" stroke-width="0.8" fill="none"/><rect x="350.4" y="4.9" width="191.2" height="141.4" fill="none" stroke="#454545" stroke-width="1.25"/><rect x="510.45" y="9.85" width="3.3" height="3.3" fill="#000"/><circle cx="512.1" cy="19.9" r="1.9" fill="#f00"/><path d="M512.1 25.67l2.15 3.72h-4.29z" fill="#0f0"/><path d="M512.1 38.83l2.15 -3.72h-4.29z" fill="#00f"/></g>
<g><polyline fill="none" stroke="none" marker-start="url(#mek)" marker-mid="url(#mek)" marker-end="url(#mek)" points="59,252.18 59.5,252.48 60,252.78 60.5,253.08 61,253.39 61.5,253.69 62,253.99 62.5,254.3 63,254.6 63.5,254.9 64,255.21 64.5,255.51 65,255.81 65.5,256.08 66,256.35 66.5,256.62 67,256.89 67.5,257.16 68,257.43 68.5,257.69 69,257.96 69.5,258.23 70,258.5 70.5,258.75 71,259 71.5,259.25 72,259.5 72.5,259.75 73,260 73.5,260.25 74,260.5 74.5,260.75 75,261 75.5,261.23 76,261.46 76.5,261.69 77,261.92 77.5,262.15 78,262.38 78.5,262.61 79,262.84 79.5,263.07 80,263.3 80.5,263.6 81,263.9 81.5,264.2 82,264.5 82.5,264.8 83,265.1 83.5,265.4 84,265.7 84.5,266 85,266.3 85.5,266.62 86,266.95 86.5,267.28 87,267.6 87.5,267.93 88,268.25 88.5,268.57 89,268.9 89.5,269.23 90,269.55 90.5,269.82 91,270.1 91.5,270.38 92,270.65 92.5,270.93 93,271.2 93.5,271.48 94,271.75 94.5,272.03 95,272.3 95.5,272.63 96,272.96 96.5,273.29 97,273.62 97.5,273.95 98,274.28 98.5,274.61 99,274.94 99.5,275.27 100,275.6 100.56,275.79 101.11,275.98 101.67,276.17 102.22,276.36 102.78,276.54 103.33,276.73 103.89,276.92 104.44,277.11 105,277.3 105.56,277.41 106.11,277.52 106.67,277.63 107.22,277.74 107.78,277.86 108.33,277.97 108.89,278.08 109.44,278.19 110,278.3 110.5,278.53 111,278.75 111.5,278.98 112,279.2 112.5,279.43 113,279.65 113.5,279.88 114,280.1 114.5,280.32 115,280.55 115.5,280.77 116,280.98 116.5,281.2 117,281.42 117.5,281.64 118,281.85 118.5,282.07 119,282.29 119.5,282.5 120,282.72 120.5,282.93 121,283.13 121.5,283.34 122,283.54 122.5,283.75 123,283.96 123.5,284.16 124,284.37 124.5,284.57 125,284.78 125.56,284.84 126.11,284.9 126.67,284.96 127.22,285.02 127.78,285.09 128.33,285.15 128.89,285.21 129.44,285.27 130,285.33 130.56,285.4 131.11,285.46 131.67,285.52 132.22,285.58 132.78,285.64 133.33,285.7 133.89,285.77 134.44,285.83 135,285.89 135.56,286.01 136.11,286.12 136.67,286.24 137.22,286.36 137.78,286.48 138.33,286.59 138.89,286.71 139.44,286.83 140,286.94 140.56,287.12 141.11,287.29 141.67,287.46 142.22,287.64 142.78,287.81 143.33,287.98 143.89,288.15 144.44,288.33 145,288.5 145.56,288.72 146.11,288.94 146.67,289.17 147.22,289.39 147.78,289.61 148.33,289.83 148.89,290.06 149.44,290.28 150,290.5 150.5,290.75 151,291 151.5,291.25 152,291.5 152.5,291.75 153,292 153.5,292.25 154,292.5 154.5,292.75 155,293 155.45,293.32 155.91,293.64 156.36,293.95 156.82,294.27 157.27,294.59 157.73,294.91 158.18,295.23 158.64,295.55 159.09,295.86 159.55,296.18 160,296.5 160.42,296.91 160.83,297.32 161.25,297.73 161.67,298.15 162.08,298.56 162.5,298.97 162.92,299.38 163.33,299.79 163.75,300.2 164.17,300.61 164.58,301.03 165,301.44 165.38,301.87 165.77,302.3 166.15,302.74 166.54,303.17 166.92,303.6 167.31,304.04 167.69,304.47 168.08,304.9 168.46,305.34 168.85,305.77 169.23,306.2 169.62,306.64 170,307.07 170.36,307.53 170.71,307.99 171.07,308.45 171.43,308.91 171.79,309.37 172.14,309.83 172.5,310.29 172.86,310.74 173.21,311.2 173.57,311.66 173.93,312.12 174.29,312.58 174.64,313.04 175,313.5 175.38,313.94 175.77,314.38 176.15,314.83 176.54,315.27 176.92,315.71 177.31,316.15 177.69,316.6 178.08,317.04 178.46,317.48 178.85,317.92 179.23,318.37 179.62,318.81 180,319.25 180.36,319.7 180.71,320.14 181.07,320.59 181.43,321.04 181.79,321.48 182.14,321.93 182.5,322.38 182.86,322.82 183.21,323.27 183.57,323.71 183.93,324.16 184.29,324.61 184.64,325.05 185,325.5 185.36,325.94 185.71,326.39 186.07,326.83 186.43,327.28 186.79,327.72 187.14,328.17 187.5,328.61 187.86,329.06 188.21,329.5 188.57,329.94 188.93,330.39 189.29,330.83 189.64,331.28 190,331.72 190.3,332.21 190.6,332.69 190.9,333.17 191.2,333.66 191.5,334.14 191.8,334.62 192.1,335.11 192.4,335.59 192.7,336.07 193,336.56"/><polyline fill="none" stroke="none" marker-start="url(#mer)" marker-mid="url(#mer)" marker-end="url(#mer)" points="56.7,254 57.25,254.08 57.8,254.17 58.35,254.25 58.9,254.33 59.45,254.42 60,254.5 60.56,254.67 61.11,254.86 61.67,255.08 62.22,255.33 62.78,255.63 63.33,255.63 63.89,255.59 64.44,255.67 65,255.9 65.45,256.26 65.91,256.63 66.36,256.99 66.82,257.35 67.27,257.69 67.73,258.02 68.18,258.35 68.64,258.64 69.09,258.88 69.55,259.13 70,259.38 70.45,259.63 70.91,259.87 71.36,260.14 71.82,260.46 72.27,260.77 72.73,261.08 73.18,261.4 73.64,261.73 74.09,262.09 74.55,262.62 75,263.16 75.45,263.65 75.91,263.81 76.36,263.97 76.82,264.14 77.27,264.54 77.73,264.94 78.18,265.34 78.64,265.66 79.09,265.98 79.55,266.3 80,266.56 80.38,266.92 80.77,267.29 81.15,267.68 81.54,268.11 81.92,268.55 82.31,268.98 82.69,269.44 83.08,269.9 83.46,270.37 83.85,270.82 84.23,271.21 84.62,271.6 85,272 85.45,272.32 85.91,272.63 86.36,272.94 86.82,273.35 87.27,273.86 87.73,274.37 88.18,274.79 88.64,275.08 89.09,275.38 89.55,275.7 90,276.11 90.5,276.38 91,276.66 91.5,276.93 92,277.2 92.5,277.33 93,277.36 93.5,277.39 94,277.56 94.5,277.76 95,277.96 95.5,278.32 96,278.68 96.5,279.01 97,279.21 97.5,279.4 98,279.64 98.5,279.95 99,280.26 99.5,280.46 100,280.6 100.56,280.73 101.11,280.98 101.67,281.23 102.22,281.45 102.78,281.63 103.33,281.8 103.89,282.01 104.44,282.23 105,282.42 105.56,282.4 106.11,282.38 106.67,282.49 107.22,282.64 107.78,282.76 108.33,282.83 108.89,282.89 109.44,282.94 110,282.99 110.56,283.14 111.11,283.25 111.67,283.35 112.22,283.48 112.78,283.63 113.33,283.81 113.89,284.15 114.44,284.48 115,284.58 115.5,284.7 116,284.81 116.5,285.02 117,285.23 117.5,285.47 118,285.81 118.5,286.14 119,286.46 119.5,286.74 120,287.03 120.56,287.29 121.11,287.57 121.67,287.81 122.22,287.88 122.78,287.99 123.33,288.21 123.89,288.48 124.44,288.74 125,289 125.56,289.17 126.11,289.33 126.67,289.5 127.22,289.67 127.78,289.83 128.33,290 128.89,290.17 129.44,290.33 130,290.5 130.56,290.56 131.11,290.61 131.67,290.67 132.22,290.72 132.78,290.78 133.33,290.83 133.89,290.89 134.44,290.94 135,291 135.56,291.06 136.11,291.11 136.67,291.17 137.22,291.22 137.78,291.28 138.33,291.33 138.89,291.39 139.44,291.44 140,291.5 140.56,291.61 141.11,291.72 141.67,291.83 142.22,291.94 142.78,292.06 143.33,292.17 143.89,292.28 144.44,292.39 145,292.5 145.56,292.67 146.11,292.83 146.67,293 147.22,293.17 147.78,293.33 148.33,293.5 148.89,293.67 149.44,293.83 150,294 150.56,294.22 151.11,294.44 151.67,294.67 152.22,294.89 152.78,295.11 153.33,295.33 153.89,295.56 154.44,295.78 155,296 155.5,296.3 156,296.6 156.5,296.9 157,297.2 157.5,297.5 158,297.8 158.5,298.1 159,298.4 159.5,298.7 160,299 160.45,299.39 160.91,299.77 161.36,300.16 161.82,300.55 162.27,300.93 162.73,301.32 163.18,301.7 163.64,302.09 164.09,302.48 164.55,302.86 165,303.25 165.38,303.65 165.77,304.06 166.15,304.46 166.54,304.86 166.92,305.26 167.31,305.67 167.69,306.07 168.08,306.47 168.46,306.87 168.85,307.28 169.23,307.68 169.62,308.08 170,308.49 170.38,308.89 170.77,309.29 171.15,309.69 171.54,310.09 171.92,310.49 172.31,310.89 172.69,311.29 173.08,311.69 173.46,312.1 173.85,312.5 174.23,312.9 174.62,313.3 175,313.7 175.38,314.12 175.77,314.55 176.15,314.97 176.54,315.39 176.92,315.82 177.31,316.24 177.69,316.66 178.08,317.08 178.46,317.51 178.85,317.93 179.23,318.35 179.62,318.78 180,319.2 180.36,319.66 180.71,320.13 181.07,320.59 181.43,321.06 181.79,321.52 182.14,321.99 182.5,322.45 182.86,322.91 183.21,323.38 183.57,323.84 183.93,324.31 184.29,324.77 184.64,325.24 185,325.7 185.36,326.14 185.71,326.57 186.07,327.01 186.43,327.45 186.79,327.88 187.14,328.32 187.5,328.76 187.86,329.19 188.21,329.63 188.57,330.07 188.93,330.5 189.29,330.94 189.64,331.37 190,331.81 190.38,332.19 190.75,332.58 191.12,332.96 191.5,333.34 191.88,333.73 192.25,334.11 192.62,334.49 193,334.88"/><polyline fill="none" stroke="none" marker-start="url(#meg)" marker-mid="url(#meg)" marker-end="url(#meg)" points="56.7,255.87 57.25,256.01 57.8,256.15 58.35,256.29 58.9,256.42 59.45,256.56 60,256.7 60.5,256.88 61,257.05 61.5,257.25 62,257.58 62.5,257.98 63,258.32 63.5,258.42 64,258.53 64.5,258.73 65,258.99 65.45,259.37 65.91,259.77 66.36,260.17 66.82,260.57 67.27,260.88 67.73,261.13 68.18,261.37 68.64,261.76 69.09,262.29 69.55,262.82 70,263.25 70.45,263.58 70.91,263.91 71.36,264.27 71.82,264.69 72.27,265.11 72.73,265.46 73.18,265.66 73.64,265.85 74.09,266.08 74.55,266.45 75,266.81 75.5,267.12 76,267.58 76.5,268.03 77,268.42 77.5,268.69 78,268.97 78.5,269.16 79,269.28 79.5,269.41 80,269.85 80.5,270.37 81,270.9 81.5,271.13 82,271.36 82.5,271.6 83,271.87 83.5,272.14 84,272.38 84.5,272.56 85,272.74 85.45,273.09 85.91,273.55 86.36,274.01 86.82,274.42 87.27,274.78 87.73,275.13 88.18,275.42 88.64,275.62 89.09,275.82 89.55,276.06 90,276.36 90.42,276.72 90.83,277.1 91.25,277.63 91.67,278.15 92.08,278.68 92.5,279.06 92.92,279.38 93.33,279.69 93.75,279.99 94.17,280.24 94.58,280.49 95,280.74 95.5,281.01 96,281.27 96.5,281.57 97,282 97.5,282.42 98,282.82 98.5,283.16 99,283.51 99.5,283.88 100,284.26 100.56,284.52 101.11,284.61 101.67,284.69 102.22,284.79 102.78,284.93 103.33,285.08 103.89,285.09 104.44,285.07 105,285.19 105.56,285.49 106.11,285.8 106.67,285.86 107.22,285.88 107.78,285.92 108.33,286.03 108.89,286.13 109.44,286.29 110,286.46 110.56,286.74 111.11,287.01 111.67,287.29 112.22,287.6 112.78,287.91 113.33,288.16 113.89,288.21 114.44,288.25 115,288.49 115.5,288.83 116,289.17 116.5,289.37 117,289.57 117.5,289.75 118,289.89 118.5,290.04 119,290.3 119.5,290.73 120,291.17 120.5,291.5 121,291.76 121.5,292.01 122,292.2 122.5,292.37 123,292.55 123.5,292.85 124,293.16 124.5,293.42 125,293.5 125.56,293.49 126.11,293.64 126.67,293.92 127.22,294.2 127.78,294.25 128.33,294.36 128.89,294.6 129.44,294.85 130,295 130.56,295.11 131.11,295.22 131.67,295.33 132.22,295.44 132.78,295.56 133.33,295.67 133.89,295.78 134.44,295.89 135,296 135.56,296.06 136.11,296.11 136.67,296.17 137.22,296.22 137.78,296.28 138.33,296.33 138.89,296.39 139.44,296.44 140,296.5 140.56,296.54 141.11,296.59 141.67,296.63 142.22,296.68 142.78,296.72 143.33,296.77 143.89,296.81 144.44,296.86 145,296.9 145.56,297 146.11,297.1 146.67,297.2 147.22,297.3 147.78,297.4 148.33,297.5 148.89,297.6 149.44,297.7 150,297.8 150.56,297.98 151.11,298.16 151.67,298.34 152.22,298.53 152.78,298.71 153.33,298.89 153.89,299.07 154.44,299.25 155,299.43 155.5,299.7 156,299.96 156.5,300.22 157,300.49 157.5,300.75 158,301.01 158.5,301.28 159,301.54 159.5,301.8 160,302.07 160.5,302.38 161,302.69 161.5,303.01 162,303.32 162.5,303.63 163,303.95 163.5,304.26 164,304.57 164.5,304.89 165,305.2 165.42,305.57 165.83,305.93 166.25,306.3 166.67,306.67 167.08,307.03 167.5,307.4 167.92,307.77 168.33,308.13 168.75,308.5 169.17,308.87 169.58,309.23 170,309.6 170.42,309.97 170.83,310.33 171.25,310.7 171.67,311.07 172.08,311.43 172.5,311.8 172.92,312.17 173.33,312.53 173.75,312.9 174.17,313.27 174.58,313.63 175,314 175.38,314.42 175.77,314.85 176.15,315.27 176.54,315.69 176.92,316.12 177.31,316.54 177.69,316.96 178.08,317.38 178.46,317.81 178.85,318.23 179.23,318.65 179.62,319.08 180,319.5 180.36,319.96 180.71,320.43 181.07,320.89 181.43,321.36 181.79,321.82 182.14,322.29 182.5,322.75 182.86,323.21 183.21,323.68 183.57,324.14 183.93,324.61 184.29,325.07 184.64,325.54 185,326 185.38,326.44 185.77,326.88 186.15,327.32 186.54,327.76 186.92,328.2 187.31,328.64 187.69,329.08 188.08,329.52 188.46,329.96 188.85,330.4 189.23,330.84 189.62,331.28 190,331.72 190.43,332.13 190.86,332.53 191.29,332.94 191.71,333.34 192.14,333.75 192.57,334.15 193,334.56"/><polyline fill="none" stroke="none" marker-start="url(#meb)" marker-mid="url(#meb)" marker-end="url(#meb)" points="56.5,251.11 56.94,251.45 57.38,251.8 57.81,252.14 58.25,252.48 58.69,252.82 59.12,253.17 59.56,253.51 60,253.85 60.45,254.19 60.91,254.53 61.36,254.87 61.82,255.21 62.27,255.57 62.73,255.87 63.18,256.09 63.64,256.37 64.09,256.78 64.55,257.26 65,257.72 65.45,258.11 65.91,258.51 66.36,258.91 66.82,259.32 67.27,259.72 67.73,260.11 68.18,260.48 68.64,260.84 69.09,261.18 69.55,261.42 70,261.67 70.42,261.99 70.83,262.37 71.25,262.75 71.67,263.13 72.08,263.59 72.5,264.09 72.92,264.59 73.33,265.05 73.75,265.43 74.17,265.8 74.58,266.18 75,266.55 75.45,266.88 75.91,267.21 76.36,267.62 76.82,268.05 77.27,268.48 77.73,268.94 78.18,269.42 78.64,269.89 79.09,270.31 79.55,270.69 80,271.07 80.42,271.38 80.83,271.64 81.25,271.89 81.67,272.18 82.08,272.65 82.5,273.12 82.92,273.59 83.33,274.04 83.75,274.48 84.17,274.92 84.58,275.31 85,275.65 85.42,275.98 85.83,276.31 86.25,276.61 86.67,276.92 87.08,277.22 87.5,277.62 87.92,278.04 88.33,278.47 88.75,278.93 89.17,279.42 89.58,279.91 90,280.41 90.42,280.77 90.83,281.13 91.25,281.49 91.67,281.87 92.08,282.26 92.5,282.65 92.92,283.07 93.33,283.54 93.75,284.01 94.17,284.48 94.58,284.87 95,285.25 95.42,285.63 95.83,285.94 96.25,286.18 96.67,286.43 97.08,286.76 97.5,287.43 97.92,288.1 98.33,288.77 98.75,289.14 99.17,289.45 99.58,289.76 100,290.1 100.5,290.31 101,290.51 101.5,290.84 102,291.27 102.5,291.7 103,291.91 103.5,292.07 104,292.22 104.5,292.28 105,292.35 105.56,292.44 106.11,292.89 106.67,293.33 107.22,293.44 107.78,293.44 108.33,293.51 108.89,293.81 109.44,294.1 110,294.14 110.56,294.03 111.11,294 111.67,294.3 112.22,294.61 112.78,294.77 113.33,294.86 113.89,294.96 114.44,295.07 115,295.19 115.56,295.34 116.11,295.48 116.67,295.6 117.22,295.54 117.78,295.49 118.33,295.56 118.89,295.71 119.44,295.88 120,296.18 120.45,296.6 120.91,296.98 121.36,297.23 121.82,297.48 122.27,297.75 122.73,298.16 123.18,298.56 123.64,298.97 124.09,299.35 124.55,299.74 125,300.12 125.5,300.53 126,300.93 126.5,301.31 127,301.62 127.5,301.92 128,302.19 128.5,302.42 129,302.64 129.5,302.8 130,302.92 130.45,303.08 130.91,303.5 131.36,304.03 131.82,304.57 132.27,304.83 132.73,304.95 133.18,305.14 133.64,305.42 134.09,305.76 134.55,306.12 135,306.5 135.56,306.56 136.11,306.61 136.67,306.67 137.22,306.72 137.78,306.78 138.33,306.83 138.89,306.89 139.44,306.94 140,307 140.56,306.93 141.11,306.86 141.67,306.79 142.22,306.71 142.78,306.64 143.33,306.57 143.89,306.5 144.44,306.43 145,306.36 145.56,306.3 146.11,306.24 146.67,306.18 147.22,306.12 147.78,306.05 148.33,305.99 148.89,305.93 149.44,305.87 150,305.81 150.56,305.78 151.11,305.74 151.67,305.71 152.22,305.67 152.78,305.64 153.33,305.6 153.89,305.57 154.44,305.53 155,305.5 155.56,305.64 156.11,305.79 156.67,305.93 157.22,306.08 157.78,306.22 158.33,306.37 158.89,306.51 159.44,306.66 160,306.8 160.5,307.05 161,307.3 161.5,307.55 162,307.8 162.5,308.05 163,308.3 163.5,308.55 164,308.8 164.5,309.05 165,309.3 165.5,309.57 166,309.84 166.5,310.11 167,310.38 167.5,310.65 168,310.92 168.5,311.19 169,311.46 169.5,311.73 170,312 170.45,312.32 170.91,312.64 171.36,312.95 171.82,313.27 172.27,313.59 172.73,313.91 173.18,314.23 173.64,314.55 174.09,314.86 174.55,315.18 175,315.5 175.42,315.92 175.83,316.33 176.25,316.75 176.67,317.17 177.08,317.58 177.5,318 177.92,318.42 178.33,318.83 178.75,319.25 179.17,319.67 179.58,320.08 180,320.5 180.36,320.93 180.71,321.36 181.07,321.79 181.43,322.21 181.79,322.64 182.14,323.07 182.5,323.5 182.86,323.93 183.21,324.36 183.57,324.79 183.93,325.21 184.29,325.64 184.64,326.07 185,326.5 185.36,326.93 185.71,327.36 186.07,327.79 186.43,328.21 186.79,328.64 187.14,329.07 187.5,329.5 187.86,329.93 188.21,330.36 188.57,330.79 188.93,331.21 189.29,331.64 189.64,332.07 190,332.5 190.32,332.91 190.65,333.32 190.97,333.74 191.3,334.15 191.62,334.56 191.95,334.98 192.28,335.39 192.6,335.8"/><path d="M25.4 360v-3.5M32.63 360v-2M36.86 360v-2M39.86 360v-2M42.18 360v-2M44.09 360v-2M45.69 360v-2M47.09 360v-2M48.31 360v-2M49.41 360v-3.5M56.64 360v-2M60.87 360v-2M63.87 360v-2M66.2 360v-2M68.1 360v-2M69.71 360v-2M71.1 360v-2M72.33 360v-2M73.42 360v-3.5M80.65 360v-2M84.88 360v-2M87.88 360v-2M90.21 360v-2M92.11 360v-2M93.72 360v-2M95.11 360v-2M96.34 360v-2M97.44 360v-3.5M104.67 360v-2M108.89 360v-2M111.89 360v-2M114.22 360v-2M116.12 360v-2M117.73 360v-2M119.12 360v-2M120.35 360v-2M121.45 360v-3.5M128.68 360v-2M132.91 360v-2M135.91 360v-2M138.23 360v-2M140.14 360v-2M141.74 360v-2M143.14 360v-2M144.36 360v-2M145.46 360v-3.5M152.69 360v-2M156.92 360v-2M159.92 360v-2M162.25 360v-2M164.15 360v-2M165.76 360v-2M167.15 360v-2M168.38 360v-2M169.47 360v-3.5M176.7 360v-2M180.93 360v-2M183.93 360v-2M186.26 360v-2M188.16 360v-2M189.77 360v-2M191.16 360v-2M192.39 360v-2M193.49 360v-3.5M200.72 360v-2M204.94 360v-2M207.94 360v-2M210.27 360v-2M212.17 360v-2M213.78 360v-2M215.17 360v-2M216.4 360v-2M217.5 360v-3.5M25.4 360h3.5M25.4 350.97h2M25.4 345.68h2M25.4 341.93h2M25.4 339.03h2M25.4 336.65h2M25.4 334.64h2M25.4 332.9h2M25.4 331.37h2M25.4 329.99h3.5M25.4 320.96h2M25.4 315.68h2M25.4 311.93h2M25.4 309.02h2M25.4 306.64h2M25.4 304.63h2M25.4 302.89h2M25.4 301.36h2M25.4 299.99h3.5M25.4 290.95h2M25.4 285.67h2M25.4 281.92h2M25.4 279.01h2M25.4 276.64h2M25.4 274.63h2M25.4 272.89h2M25.4 271.35h2M25.4 269.98h3.5M25.4 260.95h2M25.4 255.66h2M25.4 251.91h2M25.4 249.01h2M25.4 246.63h2M25.4 244.62h2M25.4 242.88h2M25.4 241.35h2M25.4 239.97h3.5M25.4 230.94h2M25.4 225.66h2M25.4 221.91h2M25.4 219h2" stroke="#454545" stroke-width="0.8" fill="none"/><rect x="25.4" y="219" width="192.1" height="141" fill="none" stroke="#454545" stroke-width="1.25"/><rect x="186.35" y="223.95" width="3.3" height="3.3" fill="#000"/><circle cx="188" cy="234" r="1.9" fill="#f00"/><path d="M188 239.77l2.15 3.72h-4.29z" fill="#0f0"/><path d="M188 252.93l2.15 -3.72h-4.29z" fill="#00f"/></g>
<g><polyline fill="none" stroke="none" marker-start="url(#mfk)" marker-mid="url(#mfk)" marker-end="url(#mfk)" points="380,264.5 380.5,264.6 381,264.7 381.5,264.8 382,264.9 382.5,265 383.06,265 383.62,265 384.19,265 384.75,265 385.31,265 385.88,265 386.44,265 387,265 387.56,265 388.11,265 388.67,265 389.22,265 389.78,265 390.33,265 390.89,265 391.44,265 392,265 392.56,265.06 393.11,265.11 393.67,265.17 394.22,265.22 394.78,265.28 395.33,265.33 395.89,265.39 396.44,265.44 397,265.5 397.5,265.72 398,265.94 398.5,266.16 399,266.38 399.5,266.6 400,266.82 400.5,267.04 401,267.26 401.5,267.48 402,267.7 402.45,268.06 402.91,268.43 403.36,268.79 403.82,269.15 404.27,269.52 404.73,269.88 405.18,270.25 405.64,270.61 406.09,270.97 406.55,271.34 407,271.7 407.5,271.99 408,272.28 408.5,272.57 409,272.87 409.5,273.16 410,273.45 410.5,273.74 411,274.03 411.5,274.32 412,274.61 412.5,274.85 413,275.1 413.5,275.34 414,275.58 414.5,275.82 415,276.06 415.5,276.3 416,276.54 416.5,276.78 417,277.03 417.5,277.27 418,277.51 418.5,277.75 419,277.99 419.5,278.23 420,278.47 420.5,278.72 421,278.96 421.5,279.2 422,279.44 422.5,279.68 423,279.92 423.5,280.16 424,280.4 424.5,280.65 425,280.89 425.5,281.13 426,281.37 426.5,281.55 427,281.73 427.5,281.91 428,282.08 428.5,282.26 429,282.44 429.5,282.62 430,282.8 430.56,282.92 431.11,283.03 431.67,283.15 432.22,283.26 432.78,283.38 433.33,283.49 433.89,283.61 434.44,283.72 435,283.84 435.5,284.04 436,284.25 436.5,284.45 437,284.66 437.5,284.86 438,285.06 438.5,285.27 439,285.47 439.5,285.68 440,285.88 440.5,286.13 441,286.39 441.5,286.64 442,286.9 442.5,287.15 443,287.4 443.5,287.66 444,287.91 444.5,288.17 445,288.42 445.5,288.62 446,288.83 446.5,289.03 447,289.24 447.5,289.44 448,289.64 448.5,289.85 449,290.05 449.5,290.26 450,290.46 450.56,290.52 451.11,290.58 451.67,290.64 452.22,290.7 452.78,290.76 453.33,290.82 453.89,290.88 454.44,290.94 455,291 455.56,291.03 456.11,291.07 456.67,291.1 457.22,291.13 457.78,291.17 458.33,291.2 458.89,291.23 459.44,291.27 460,291.3 460.56,291.37 461.11,291.43 461.67,291.5 462.22,291.57 462.78,291.63 463.33,291.7 463.89,291.77 464.44,291.83 465,291.9 465.56,291.95 466.11,292 466.67,292.06 467.22,292.11 467.78,292.16 468.33,292.21 468.89,292.26 469.44,292.31 470,292.37 470.56,292.5 471.11,292.63 471.67,292.76 472.22,292.89 472.78,293.01 473.33,293.14 473.89,293.27 474.44,293.4 475,293.53 475.56,293.75 476.11,293.97 476.67,294.19 477.22,294.41 477.78,294.63 478.33,294.84 478.89,295.06 479.44,295.28 480,295.5 480.5,295.82 481,296.14 481.5,296.46 482,296.78 482.5,297.1 483,297.42 483.5,297.74 484,298.06 484.5,298.38 485,298.7 485.45,299.08 485.91,299.46 486.36,299.85 486.82,300.23 487.27,300.61 487.73,300.99 488.18,301.37 488.64,301.75 489.09,302.14 489.55,302.52 490,302.9 490.38,303.33 490.77,303.75 491.15,304.18 491.54,304.61 491.92,305.03 492.31,305.46 492.69,305.89 493.08,306.32 493.46,306.74 493.85,307.17 494.23,307.6 494.62,308.02 495,308.45 495.36,308.88 495.71,309.31 496.07,309.75 496.43,310.18 496.79,310.61 497.14,311.04 497.5,311.48 497.86,311.91 498.21,312.34 498.57,312.77 498.93,313.2 499.29,313.64 499.64,314.07 500,314.5 500.36,314.93 500.71,315.36 501.07,315.79 501.43,316.21 501.79,316.64 502.14,317.07 502.5,317.5 502.86,317.93 503.21,318.36 503.57,318.79 503.93,319.21 504.29,319.64 504.64,320.07 505,320.5 505.36,320.96 505.71,321.43 506.07,321.89 506.43,322.36 506.79,322.82 507.14,323.29 507.5,323.75 507.86,324.21 508.21,324.68 508.57,325.14 508.93,325.61 509.29,326.07 509.64,326.54 510,327 510.36,327.43 510.71,327.86 511.07,328.29 511.43,328.71 511.79,329.14 512.14,329.57 512.5,330 512.86,330.43 513.21,330.86 513.57,331.29 513.93,331.71 514.29,332.14 514.64,332.57 515,333 515.41,333.41 515.82,333.82 516.23,334.23 516.64,334.64 517.05,335.05 517.45,335.45 517.86,335.86 518.27,336.27 518.68,336.68 519.09,337.09 519.5,337.5"/><polyline fill="none" stroke="none" marker-start="url(#mfr)" marker-mid="url(#mfr)" marker-end="url(#mfr)" points="380,260.8 380.5,260.8 381,260.8 381.5,260.8 382,260.8 382.5,260.8 383.06,260.93 383.62,261.05 384.19,261.18 384.75,261.3 385.31,261.43 385.88,261.55 386.44,261.68 387,261.8 387.56,261.97 388.11,262.13 388.67,262.3 389.22,262.47 389.78,262.63 390.33,262.8 390.89,262.97 391.44,263.13 392,263.3 392.5,263.55 393,263.8 393.5,264.05 394,264.3 394.5,264.55 395,264.8 395.5,265.05 396,265.3 396.5,265.55 397,265.8 397.5,266.1 398,266.4 398.5,266.7 399,267 399.5,267.3 400,267.6 400.5,267.9 401,268.2 401.5,268.5 402,268.8 402.45,269.12 402.91,269.44 403.36,269.77 403.82,270.09 404.27,270.41 404.73,270.73 405.18,271.05 405.64,271.37 406.09,271.7 406.55,272.02 407,272.34 407.45,272.67 407.91,272.99 408.36,273.32 408.82,273.65 409.27,273.98 409.73,274.3 410.18,274.63 410.64,274.96 411.09,275.29 411.55,275.61 412,275.94 412.45,276.26 412.91,276.59 413.36,276.91 413.82,277.23 414.27,277.56 414.73,277.88 415.18,278.21 415.64,278.53 416.09,278.85 416.55,279.18 417,279.5 417.5,279.75 418,280 418.5,280.25 419,280.5 419.5,280.75 420,281 420.5,281.25 421,281.5 421.5,281.75 422,282 422.5,282.31 423,282.62 423.5,282.94 424,283.25 424.5,283.56 425,283.88 425.5,284.19 426,284.5 426.44,284.83 426.89,285.17 427.33,285.5 427.78,285.83 428.22,286.17 428.67,286.5 429.11,286.83 429.56,287.17 430,287.5 430.56,287.54 431.11,287.57 431.67,287.61 432.22,287.65 432.78,287.69 433.33,287.72 433.89,287.76 434.44,287.8 435,287.83 435.5,288.07 436,288.3 436.5,288.53 437,288.77 437.5,289 438,289.23 438.5,289.47 439,289.7 439.5,289.93 440,290.17 440.5,290.4 441,290.63 441.5,290.87 442,291.1 442.5,291.33 443,291.57 443.5,291.8 444,292.03 444.5,292.27 445,292.5 445.56,292.69 446.11,292.89 446.67,293.08 447.22,293.28 447.78,293.47 448.33,293.67 448.89,293.86 449.44,294.06 450,294.25 450.56,294.33 451.11,294.42 451.67,294.5 452.22,294.58 452.78,294.67 453.33,294.75 453.89,294.83 454.44,294.92 455,295 455.56,295.06 456.11,295.11 456.67,295.17 457.22,295.22 457.78,295.28 458.33,295.33 458.89,295.39 459.44,295.44 460,295.5 460.56,295.5 461.11,295.5 461.67,295.5 462.22,295.5 462.78,295.5 463.33,295.5 463.89,295.5 464.44,295.5 465,295.5 465.56,295.56 466.11,295.62 466.67,295.69 467.22,295.75 467.78,295.81 468.33,295.87 468.89,295.94 469.44,296 470,296.06 470.56,296.12 471.11,296.18 471.67,296.25 472.22,296.31 472.78,296.37 473.33,296.43 473.89,296.5 474.44,296.56 475,296.62 475.56,296.79 476.11,296.97 476.67,297.14 477.22,297.31 477.78,297.49 478.33,297.66 478.89,297.83 479.44,298.01 480,298.18 480.5,298.44 481,298.69 481.5,298.95 482,299.2 482.5,299.46 483,299.72 483.5,299.97 484,300.23 484.5,300.48 485,300.74 485.45,301.06 485.91,301.39 486.36,301.71 486.82,302.03 487.27,302.36 487.73,302.68 488.18,303.01 488.64,303.33 489.09,303.65 489.55,303.98 490,304.3 490.42,304.71 490.83,305.12 491.25,305.54 491.67,305.95 492.08,306.36 492.5,306.77 492.92,307.19 493.33,307.6 493.75,308.01 494.17,308.43 494.58,308.84 495,309.25 495.38,309.67 495.77,310.09 496.15,310.51 496.54,310.93 496.92,311.35 497.31,311.77 497.69,312.18 498.08,312.6 498.46,313.02 498.85,313.44 499.23,313.86 499.62,314.28 500,314.7 500.38,315.12 500.77,315.55 501.15,315.97 501.54,316.39 501.92,316.82 502.31,317.24 502.69,317.66 503.08,318.08 503.46,318.51 503.85,318.93 504.23,319.35 504.62,319.78 505,320.2 505.36,320.63 505.71,321.06 506.07,321.49 506.43,321.91 506.79,322.34 507.14,322.77 507.5,323.2 507.86,323.63 508.21,324.06 508.57,324.49 508.93,324.91 509.29,325.34 509.64,325.77 510,326.2 510.36,326.63 510.71,327.06 511.07,327.49 511.43,327.91 511.79,328.34 512.14,328.77 512.5,329.2 512.86,329.63 513.21,330.06 513.57,330.49 513.93,330.91 514.29,331.34 514.64,331.77 515,332.2 515.41,332.61 515.82,333.02 516.23,333.43 516.64,333.84 517.05,334.25 517.45,334.65 517.86,335.06 518.27,335.47 518.68,335.88 519.09,336.29 519.5,336.7"/><polyline fill="none" stroke="none" marker-start="url(#mfg)" marker-mid="url(#mfg)" marker-end="url(#mfg)" points="380,262 380.5,262.1 381,262.2 381.5,262.3 382,262.4 382.5,262.5 383.06,262.69 383.62,262.88 384.19,263.06 384.75,263.25 385.31,263.44 385.88,263.62 386.44,263.81 387,264 387.56,264.22 388.11,264.44 388.67,264.67 389.22,264.89 389.78,265.11 390.33,265.33 390.89,265.56 391.44,265.78 392,266 392.5,266.3 393,266.6 393.5,266.9 394,267.2 394.5,267.5 395,267.8 395.5,268.1 396,268.4 396.5,268.7 397,269 397.45,269.32 397.91,269.64 398.36,269.95 398.82,270.27 399.27,270.59 399.73,270.91 400.18,271.23 400.64,271.55 401.09,271.86 401.55,272.18 402,272.5 402.45,272.82 402.91,273.14 403.36,273.45 403.82,273.77 404.27,274.09 404.73,274.41 405.18,274.73 405.64,275.05 406.09,275.36 406.55,275.68 407,276 407.45,276.32 407.91,276.64 408.36,276.95 408.82,277.27 409.27,277.59 409.73,277.91 410.18,278.23 410.64,278.55 411.09,278.86 411.55,279.18 412,279.5 412.45,279.82 412.91,280.14 413.36,280.45 413.82,280.77 414.27,281.09 414.73,281.41 415.18,281.73 415.64,282.05 416.09,282.36 416.55,282.68 417,283 417.5,283.32 418,283.65 418.5,283.98 419,284.3 419.5,284.62 420,284.95 420.5,285.27 421,285.6 421.5,285.93 422,286.25 422.44,286.58 422.89,286.92 423.33,287.25 423.78,287.58 424.22,287.92 424.67,288.25 425.11,288.58 425.56,288.92 426,289.25 426.5,289.47 427,289.68 427.5,289.9 428,290.12 428.5,290.33 429,290.55 429.5,290.77 430,290.98 430.56,291.09 431.11,291.19 431.67,291.3 432.22,291.41 432.78,291.51 433.33,291.62 433.89,291.72 434.44,291.83 435,291.94 435.56,292.1 436.11,292.26 436.67,292.42 437.22,292.58 437.78,292.74 438.33,292.91 438.89,293.07 439.44,293.23 440,293.39 440.5,293.69 441,293.98 441.5,294.28 442,294.57 442.5,294.87 443,295.16 443.5,295.46 444,295.75 444.5,296.05 445,296.35 445.5,296.59 446,296.84 446.5,297.08 447,297.33 447.5,297.57 448,297.82 448.5,298.06 449,298.31 449.5,298.55 450,298.8 450.56,299.02 451.11,299.24 451.67,299.45 452.22,299.67 452.78,299.89 453.33,300.11 453.89,300.32 454.44,300.54 455,300.76 455.56,300.86 456.11,300.97 456.67,301.08 457.22,301.18 457.78,301.29 458.33,301.4 458.89,301.5 459.44,301.61 460,301.72 460.56,301.69 461.11,301.67 461.67,301.64 462.22,301.62 462.78,301.6 463.33,301.57 463.89,301.55 464.44,301.52 465,301.5 465.56,301.43 466.11,301.37 466.67,301.3 467.22,301.23 467.78,301.17 468.33,301.1 468.89,301.03 469.44,300.97 470,300.9 470.56,300.88 471.11,300.86 471.67,300.83 472.22,300.81 472.78,300.79 473.33,300.77 473.89,300.74 474.44,300.72 475,300.7 475.56,300.81 476.11,300.92 476.67,301.03 477.22,301.14 477.78,301.26 478.33,301.37 478.89,301.48 479.44,301.59 480,301.7 480.56,301.91 481.11,302.12 481.67,302.33 482.22,302.54 482.78,302.76 483.33,302.97 483.89,303.18 484.44,303.39 485,303.6 485.5,303.89 486,304.18 486.5,304.47 487,304.76 487.5,305.05 488,305.34 488.5,305.63 489,305.92 489.5,306.21 490,306.5 490.45,306.88 490.91,307.25 491.36,307.63 491.82,308.01 492.27,308.39 492.73,308.76 493.18,309.14 493.64,309.52 494.09,309.9 494.55,310.27 495,310.65 495.42,311.04 495.83,311.42 496.25,311.81 496.67,312.2 497.08,312.59 497.5,312.98 497.92,313.36 498.33,313.75 498.75,314.14 499.17,314.52 499.58,314.91 500,315.3 500.38,315.72 500.77,316.15 501.15,316.57 501.54,316.99 501.92,317.42 502.31,317.84 502.69,318.26 503.08,318.68 503.46,319.11 503.85,319.53 504.23,319.95 504.62,320.38 505,320.8 505.36,321.23 505.71,321.66 506.07,322.09 506.43,322.51 506.79,322.94 507.14,323.37 507.5,323.8 507.86,324.23 508.21,324.66 508.57,325.09 508.93,325.51 509.29,325.94 509.64,326.37 510,326.8 510.36,327.23 510.71,327.66 511.07,328.09 511.43,328.51 511.79,328.94 512.14,329.37 512.5,329.8 512.86,330.23 513.21,330.66 513.57,331.09 513.93,331.51 514.29,331.94 514.64,332.37 515,332.8 515.41,333.16 515.82,333.53 516.23,333.89 516.64,334.25 517.05,334.62 517.45,334.98 517.86,335.35 518.27,335.71 518.68,336.07 519.09,336.44 519.5,336.8"/><polyline fill="none" stroke="none" marker-start="url(#mfb)" marker-mid="url(#mfb)" marker-end="url(#mfb)" points="380,273 380.5,272.91 381,272.77 381.5,272.6 382,272.55 382.5,272.55 383.06,272.79 383.62,272.99 384.19,273.19 384.75,273.22 385.31,273.26 385.88,273.27 386.44,273.27 387,273.26 387.57,273.36 388.14,273.46 388.71,273.64 389.29,273.9 389.86,274.11 390.43,273.99 391,273.86 391.5,273.97 392,274.15 392.5,274.33 393,274.55 393.5,274.78 394,275.02 394.5,275.28 395,275.54 395.49,275.85 395.98,276.06 396.47,276.27 396.96,276.48 397.45,276.71 397.94,276.94 398.43,277.16 398.92,277.38 399.41,277.6 399.9,277.88 400.38,278.23 400.86,278.59 401.34,278.82 401.82,279.01 402.3,279.2 402.78,279.57 403.26,279.99 403.74,280.41 404.22,280.66 404.7,280.88 405.15,281.08 405.6,281.42 406.05,281.77 406.5,282.11 406.77,282.51 407.05,282.84 407.33,283.17 407.6,283.51 408,283.74 408.4,284.15 408.8,284.57 409.2,284.99 409.6,285.4 410.09,285.64 410.58,285.89 411.07,286.17 411.56,286.48 412.05,286.79 412.54,287.05 413.03,287.3 413.52,287.54 414.01,287.72 414.5,287.88 414.95,288.07 415.4,288.39 415.85,288.73 416.3,289.07 416.52,289.59 416.74,290.09 416.96,290.6 417.18,291.1 417.4,291.61 417.78,292.04 418.16,292.41 418.54,292.78 418.92,293.15 419.3,293.53 419.78,293.8 420.27,294.07 420.75,294.28 421.23,294.34 421.72,294.41 422.2,294.58 422.66,294.79 423.12,295 423.58,295.22 424.04,295.47 424.5,295.72 424.82,296.23 425.14,296.56 425.46,296.88 425.78,297.21 426.1,297.54 426.58,297.8 427.07,298.09 427.55,298.37 428.03,298.74 428.52,299.12 429,299.5 429.5,299.39 430,299.28 430.5,299.19 431,299.16 431.5,299.14 432,299.07 432.56,299.11 433.11,299.14 433.67,299.38 434.23,299.65 434.79,299.84 435.34,299.89 435.9,299.94 436.43,300.03 436.97,300.13 437.5,300.19 438.03,300.09 438.57,300 439.1,300.11 439.63,300.38 440.17,300.65 440.7,300.76 441.24,300.97 441.77,301.18 442.31,301.37 442.85,301.55 443.39,301.67 443.93,301.82 444.46,302.03 445,302.3 445.45,302.65 445.91,303 446.36,303.35 446.82,303.7 447.27,304.05 447.73,304.4 448.18,304.75 448.64,305.1 449.09,305.45 449.55,305.8 450,306.15 450.5,306.41 451,306.68 451.5,306.94 452,307.21 452.5,307.48 453,307.74 453.5,308 454,308.27 454.5,308.54 455,308.8 455.5,309.09 456,309.37 456.5,309.66 457,309.94 457.5,310.23 458,310.51 458.5,310.8 459,311.09 459.5,311.37 460,311.66 460.56,311.78 461.11,311.91 461.67,312.04 462.22,312.17 462.78,312.29 463.33,312.42 463.89,312.55 464.44,312.67 465,312.8 465.56,312.63 466.11,312.47 466.67,312.3 467.22,312.13 467.78,311.97 468.33,311.8 468.89,311.63 469.44,311.47 470,311.3 470.56,311.19 471.11,311.08 471.67,310.97 472.22,310.86 472.78,310.74 473.33,310.63 473.89,310.52 474.44,310.41 475,310.3 475.56,310.3 476.11,310.3 476.67,310.3 477.22,310.3 477.78,310.3 478.33,310.3 478.89,310.3 479.44,310.3 480,310.3 480.56,310.36 481.11,310.41 481.67,310.47 482.22,310.52 482.78,310.58 483.33,310.63 483.89,310.69 484.44,310.74 485,310.8 485.56,310.93 486.11,311.05 486.67,311.18 487.22,311.31 487.78,311.43 488.33,311.56 488.89,311.69 489.44,311.82 490,311.94 490.5,312.19 491,312.43 491.5,312.67 492,312.92 492.5,313.16 493,313.4 493.5,313.65 494,313.89 494.5,314.13 495,314.38 495.5,314.69 496,315 496.5,315.31 497,315.62 497.5,315.94 498,316.25 498.5,316.56 499,316.88 499.5,317.19 500,317.5 500.42,317.88 500.83,318.25 501.25,318.62 501.67,319 502.08,319.38 502.5,319.75 502.92,320.12 503.33,320.5 503.75,320.88 504.17,321.25 504.58,321.62 505,322 505.36,322.46 505.71,322.93 506.07,323.39 506.43,323.86 506.79,324.32 507.14,324.79 507.5,325.25 507.86,325.71 508.21,326.18 508.57,326.64 508.93,327.11 509.29,327.57 509.64,328.04 510,328.5 510.36,328.93 510.71,329.36 511.07,329.79 511.43,330.21 511.79,330.64 512.14,331.07 512.5,331.5 512.86,331.93 513.21,332.36 513.57,332.79 513.93,333.21 514.29,333.64 514.64,334.07 515,334.5 515.36,334.91 515.73,335.32 516.09,335.73 516.45,336.14 516.82,336.55 517.18,336.95 517.55,337.36 517.91,337.77 518.27,338.18 518.64,338.59 519,339"/><path d="M348.8 359.8v-3.5M356.09 359.8v-2M360.36 359.8v-2M363.38 359.8v-2M365.73 359.8v-2M367.65 359.8v-2M369.27 359.8v-2M370.68 359.8v-2M371.92 359.8v-2M373.03 359.8v-3.5M380.32 359.8v-2M384.58 359.8v-2M387.61 359.8v-2M389.96 359.8v-2M391.88 359.8v-2M393.5 359.8v-2M394.9 359.8v-2M396.14 359.8v-2M397.25 359.8v-3.5M404.54 359.8v-2M408.81 359.8v-2M411.83 359.8v-2M414.18 359.8v-2M416.1 359.8v-2M417.72 359.8v-2M419.13 359.8v-2M420.37 359.8v-2M421.48 359.8v-3.5M428.77 359.8v-2M433.03 359.8v-2M436.06 359.8v-2M438.41 359.8v-2M440.33 359.8v-2M441.95 359.8v-2M443.35 359.8v-2M444.59 359.8v-2M445.7 359.8v-3.5M452.99 359.8v-2M457.26 359.8v-2M460.28 359.8v-2M462.63 359.8v-2M464.55 359.8v-2M466.17 359.8v-2M467.58 359.8v-2M468.82 359.8v-2M469.93 359.8v-3.5M477.22 359.8v-2M481.48 359.8v-2M484.51 359.8v-2M486.86 359.8v-2M488.78 359.8v-2M490.4 359.8v-2M491.8 359.8v-2M493.04 359.8v-2M494.15 359.8v-3.5M501.44 359.8v-2M505.71 359.8v-2M508.73 359.8v-2M511.08 359.8v-2M513 359.8v-2M514.62 359.8v-2M516.03 359.8v-2M517.27 359.8v-2M518.38 359.8v-3.5M525.67 359.8v-2M529.93 359.8v-2M532.96 359.8v-2M535.31 359.8v-2M537.23 359.8v-2M538.85 359.8v-2M540.25 359.8v-2M541.49 359.8v-2M542.6 359.8v-3.5M348.8 359.8h3.5M348.8 350.77h2M348.8 345.48h2M348.8 341.73h2M348.8 338.83h2M348.8 336.45h2M348.8 334.44h2M348.8 332.7h2M348.8 331.17h2M348.8 329.79h3.5M348.8 320.76h2M348.8 315.48h2M348.8 311.73h2M348.8 308.82h2M348.8 306.44h2M348.8 304.43h2M348.8 302.69h2M348.8 301.16h2M348.8 299.79h3.5M348.8 290.75h2M348.8 285.47h2M348.8 281.72h2M348.8 278.81h2M348.8 276.44h2M348.8 274.43h2M348.8 272.69h2M348.8 271.15h2M348.8 269.78h3.5M348.8 260.75h2M348.8 255.46h2M348.8 251.71h2M348.8 248.81h2M348.8 246.43h2M348.8 244.42h2M348.8 242.68h2M348.8 241.15h2M348.8 239.77h3.5M348.8 230.74h2M348.8 225.46h2M348.8 221.71h2M348.8 218.8h2" stroke="#454545" stroke-width="0.8" fill="none"/><rect x="348.8" y="218.8" width="193.8" height="141" fill="none" stroke="#454545" stroke-width="1.25"/><rect x="511.45" y="223.75" width="3.3" height="3.3" fill="#000"/><circle cx="513.1" cy="233.8" r="1.9" fill="#f00"/><path d="M513.1 239.57l2.15 3.72h-4.29z" fill="#0f0"/><path d="M513.1 252.73l2.15 -3.72h-4.29z" fill="#00f"/></g>
</g><g filter="url(#bt)"><text x="25.9" y="154.5" font-size="5.8" fill="#4a4a4a" text-anchor="middle">10<tspan font-size="3.5" dy="-2.5">-4</tspan></text><text x="49.82" y="154.5" font-size="5.8" fill="#4a4a4a" text-anchor="middle">10<tspan font-size="3.5" dy="-2.5">-3</tspan></text><text x="73.75" y="154.5" font-size="5.8" fill="#4a4a4a" text-anchor="middle">10<tspan font-size="3.5" dy="-2.5">-2</tspan></text><text x="97.68" y="154.5" font-size="5.8" fill="#4a4a4a" text-anchor="middle">10<tspan font-size="3.5" dy="-2.5">-1</tspan></text><text x="121.6" y="154.5" font-size="5.8" fill="#4a4a4a" text-anchor="middle">10<tspan font-size="3.5" dy="-2.5">0</tspan></text><text x="145.53" y="154.5" font-size="5.8" fill="#4a4a4a" text-anchor="middle">10<tspan font-size="3.5" dy="-2.5">1</tspan></text><text x="169.45" y="154.5" font-size="5.8" fill="#4a4a4a" text-anchor="middle">10<tspan font-size="3.5" dy="-2.5">2</tspan></text><text x="193.38" y="154.5" font-size="5.8" fill="#4a4a4a" text-anchor="middle">10<tspan font-size="3.5" dy="-2.5">3</tspan></text><text x="217.3" y="154.5" font-size="5.8" fill="#4a4a4a" text-anchor="middle">10<tspan font-size="3.5" dy="-2.5">4</tspan></text><text x="23.1" y="147.8" font-size="5.8" fill="#4a4a4a" text-anchor="end">10<tspan font-size="3.5" dy="-2.6">-2</tspan></text><text x="23.1" y="117.98" font-size="5.8" fill="#4a4a4a" text-anchor="end">10<tspan font-size="3.5" dy="-2.6">-1</tspan></text><text x="23.1" y="88.17" font-size="5.8" fill="#4a4a4a" text-anchor="end">10<tspan font-size="3.5" dy="-2.6">0</tspan></text><text x="23.1" y="58.35" font-size="5.8" fill="#4a4a4a" text-anchor="end">10<tspan font-size="3.5" dy="-2.6">1</tspan></text><text x="23.1" y="28.54" font-size="5.8" fill="#4a4a4a" text-anchor="end">10<tspan font-size="3.5" dy="-2.6">2</tspan></text><text x="121.2" y="167.7" font-size="7.5" font-weight="bold" fill="#000" stroke="#000" stroke-width="0.05" text-anchor="middle" textLength="59.7" lengthAdjust="spacingAndGlyphs">Shear rate (&#947;) /s<tspan font-size="3.8" dy="-3">-1</tspan></text><circle cx="134.7" cy="162.8" r="0.6" fill="#000"/><text transform="translate(9.8 73.85) rotate(-90)" font-size="7.3" font-weight="bold" fill="#000" stroke="#000" stroke-width="0.05" text-anchor="middle">Apparent viscosity (&#951;) / Pa&#183;s</text><text x="213.7" y="14" font-size="6.5" fill="#222" stroke="#222" stroke-width="0.2" text-anchor="end">5 <tspan fill="none" stroke="none">&#176;</tspan>C</text><circle cx="207.7" cy="10.1" r="0.85" fill="none" stroke="#333" stroke-width="0.6"/><text x="213.7" y="22.4" font-size="6.5" fill="#222" stroke="#222" stroke-width="0.2" text-anchor="end">10 <tspan fill="none" stroke="none">&#176;</tspan>C</text><circle cx="207.7" cy="18.5" r="0.85" fill="none" stroke="#333" stroke-width="0.6"/><text x="213.7" y="30.4" font-size="6.5" fill="#222" stroke="#222" stroke-width="0.2" text-anchor="end">15 <tspan fill="none" stroke="none">&#176;</tspan>C</text><circle cx="207.7" cy="26.5" r="0.85" fill="none" stroke="#333" stroke-width="0.6"/><text x="213.7" y="39.1" font-size="6.5" fill="#222" stroke="#222" stroke-width="0.2" text-anchor="end">20 <tspan fill="none" stroke="none">&#176;</tspan>C</text><circle cx="207.7" cy="35.2" r="0.85" fill="none" stroke="#333" stroke-width="0.6"/><text x="116.1" y="193" font-size="12" fill="#000" stroke="#000" stroke-width="0.2" text-anchor="middle" style="font-family:'Liberation Serif',serif">(<tspan font-weight="bold">c</tspan>)</text><text x="350.8" y="155.8" font-size="5.8" fill="#4a4a4a" text-anchor="middle">10<tspan font-size="3.5" dy="-2.5">-4</tspan></text><text x="374.7" y="155.8" font-size="5.8" fill="#4a4a4a" text-anchor="middle">10<tspan font-size="3.5" dy="-2.5">-3</tspan></text><text x="398.6" y="155.8" font-size="5.8" fill="#4a4a4a" text-anchor="middle">10<tspan font-size="3.5" dy="-2.5">-2</tspan></text><text x="422.5" y="155.8" font-size="5.8" fill="#4a4a4a" text-anchor="middle">10<tspan font-size="3.5" dy="-2.5">-1</tspan></text><text x="446.4" y="155.8" font-size="5.8" fill="#4a4a4a" text-anchor="middle">10<tspan font-size="3.5" dy="-2.5">0</tspan></text><text x="470.3" y="155.8" font-size="5.8" fill="#4a4a4a" text-anchor="middle">10<tspan font-size="3.5" dy="-2.5">1</tspan></text><text x="494.2" y="155.8" font-size="5.8" fill="#4a4a4a" text-anchor="middle">10<tspan font-size="3.5" dy="-2.5">2</tspan></text><text x="518.1" y="155.8" font-size="5.8" fill="#4a4a4a" text-anchor="middle">10<tspan font-size="3.5" dy="-2.5">3</tspan></text><text x="542" y="155.8" font-size="5.8" fill="#4a4a4a" text-anchor="middle">10<tspan font-size="3.5" dy="-2.5">4</tspan></text><text x="348" y="131.95" font-size="5.8" fill="#4a4a4a" text-anchor="end">10<tspan font-size="3.5" dy="-2.6">-1</tspan></text><text x="348" y="98.36" font-size="5.8" fill="#4a4a4a" text-anchor="end">10<tspan font-size="3.5" dy="-2.6">0</tspan></text><text x="348" y="64.77" font-size="5.8" fill="#4a4a4a" text-anchor="end">10<tspan font-size="3.5" dy="-2.6">1</tspan></text><text x="348" y="31.18" font-size="5.8" fill="#4a4a4a" text-anchor="end">10<tspan font-size="3.5" dy="-2.6">2</tspan></text><text x="446" y="169" font-size="7.5" font-weight="bold" fill="#000" stroke="#000" stroke-width="0.05" text-anchor="middle" textLength="59.7" lengthAdjust="spacingAndGlyphs">Shear rate (&#947;) /s<tspan font-size="3.8" dy="-3">-1</tspan></text><circle cx="459.5" cy="164.1" r="0.6" fill="#000"/><text transform="translate(334.7 74.5) rotate(-90)" font-size="7.45" font-weight="bold" fill="#000" stroke="#000" stroke-width="0.05" text-anchor="middle">Apparent viscosity (&#951;) / Pa&#183;s</text><text x="538.4" y="14" font-size="6.5" fill="#222" stroke="#222" stroke-width="0.2" text-anchor="end">5 <tspan fill="none" stroke="none">&#176;</tspan>C</text><circle cx="532.4" cy="10.1" r="0.85" fill="none" stroke="#333" stroke-width="0.6"/><text x="538.4" y="22.4" font-size="6.5" fill="#222" stroke="#222" stroke-width="0.2" text-anchor="end">10 <tspan fill="none" stroke="none">&#176;</tspan>C</text><circle cx="532.4" cy="18.5" r="0.85" fill="none" stroke="#333" stroke-width="0.6"/><text x="538.4" y="30.4" font-size="6.5" fill="#222" stroke="#222" stroke-width="0.2" text-anchor="end">15 <tspan fill="none" stroke="none">&#176;</tspan>C</text><circle cx="532.4" cy="26.5" r="0.85" fill="none" stroke="#333" stroke-width="0.6"/><text x="538.4" y="39.1" font-size="6.5" fill="#222" stroke="#222" stroke-width="0.2" text-anchor="end">20 <tspan fill="none" stroke="none">&#176;</tspan>C</text><circle cx="532.4" cy="35.2" r="0.85" fill="none" stroke="#333" stroke-width="0.6"/><text x="440.9" y="193" font-size="12" fill="#000" stroke="#000" stroke-width="0.2" text-anchor="middle" style="font-family:'Liberation Serif',serif">(<tspan font-weight="bold">d</tspan>)</text><text x="25.8" y="369.5" font-size="5.8" fill="#4a4a4a" text-anchor="middle">10<tspan font-size="3.5" dy="-2.5">-4</tspan></text><text x="49.81" y="369.5" font-size="5.8" fill="#4a4a4a" text-anchor="middle">10<tspan font-size="3.5" dy="-2.5">-3</tspan></text><text x="73.83" y="369.5" font-size="5.8" fill="#4a4a4a" text-anchor="middle">10<tspan font-size="3.5" dy="-2.5">-2</tspan></text><text x="97.84" y="369.5" font-size="5.8" fill="#4a4a4a" text-anchor="middle">10<tspan font-size="3.5" dy="-2.5">-1</tspan></text><text x="121.85" y="369.5" font-size="5.8" fill="#4a4a4a" text-anchor="middle">10<tspan font-size="3.5" dy="-2.5">0</tspan></text><text x="145.86" y="369.5" font-size="5.8" fill="#4a4a4a" text-anchor="middle">10<tspan font-size="3.5" dy="-2.5">1</tspan></text><text x="169.88" y="369.5" font-size="5.8" fill="#4a4a4a" text-anchor="middle">10<tspan font-size="3.5" dy="-2.5">2</tspan></text><text x="193.89" y="369.5" font-size="5.8" fill="#4a4a4a" text-anchor="middle">10<tspan font-size="3.5" dy="-2.5">3</tspan></text><text x="217.9" y="369.5" font-size="5.8" fill="#4a4a4a" text-anchor="middle">10<tspan font-size="3.5" dy="-2.5">4</tspan></text><text x="23" y="362.8" font-size="5.8" fill="#4a4a4a" text-anchor="end">10<tspan font-size="3.5" dy="-2.6">-2</tspan></text><text x="23" y="332.79" font-size="5.8" fill="#4a4a4a" text-anchor="end">10<tspan font-size="3.5" dy="-2.6">-1</tspan></text><text x="23" y="302.79" font-size="5.8" fill="#4a4a4a" text-anchor="end">10<tspan font-size="3.5" dy="-2.6">0</tspan></text><text x="23" y="272.78" font-size="5.8" fill="#4a4a4a" text-anchor="end">10<tspan font-size="3.5" dy="-2.6">1</tspan></text><text x="23" y="242.77" font-size="5.8" fill="#4a4a4a" text-anchor="end">10<tspan font-size="3.5" dy="-2.6">2</tspan></text><text x="121.45" y="382.7" font-size="7.5" font-weight="bold" fill="#000" stroke="#000" stroke-width="0.05" text-anchor="middle" textLength="59.7" lengthAdjust="spacingAndGlyphs">Shear rate (&#947;) /s<tspan font-size="3.8" dy="-3">-1</tspan></text><circle cx="135" cy="377.8" r="0.6" fill="#000"/><text transform="translate(9.7 288.4) rotate(-90)" font-size="7.5" font-weight="bold" fill="#000" stroke="#000" stroke-width="0.05" text-anchor="middle">Apparent viscosity (&#951;) / Pa-s</text><text x="214.3" y="228.1" font-size="6.5" fill="#222" stroke="#222" stroke-width="0.2" text-anchor="end">5 <tspan fill="none" stroke="none">&#176;</tspan>C</text><circle cx="208.3" cy="224.2" r="0.85" fill="none" stroke="#333" stroke-width="0.6"/><text x="214.3" y="236.5" font-size="6.5" fill="#222" stroke="#222" stroke-width="0.2" text-anchor="end">10 <tspan fill="none" stroke="none">&#176;</tspan>C</text><circle cx="208.3" cy="232.6" r="0.85" fill="none" stroke="#333" stroke-width="0.6"/><text x="214.3" y="244.5" font-size="6.5" fill="#222" stroke="#222" stroke-width="0.2" text-anchor="end">15 <tspan fill="none" stroke="none">&#176;</tspan>C</text><circle cx="208.3" cy="240.6" r="0.85" fill="none" stroke="#333" stroke-width="0.6"/><text x="214.3" y="253.2" font-size="6.5" fill="#222" stroke="#222" stroke-width="0.2" text-anchor="end">25 <tspan fill="none" stroke="none">&#176;</tspan>C</text><circle cx="208.3" cy="249.3" r="0.85" fill="none" stroke="#333" stroke-width="0.6"/><text x="116.4" y="407" font-size="12" fill="#000" stroke="#000" stroke-width="0.2" text-anchor="middle" style="font-family:'Liberation Serif',serif">(<tspan font-weight="bold">e</tspan>)</text><text x="349.2" y="369.3" font-size="5.8" fill="#4a4a4a" text-anchor="middle">10<tspan font-size="3.5" dy="-2.5">-4</tspan></text><text x="373.43" y="369.3" font-size="5.8" fill="#4a4a4a" text-anchor="middle">10<tspan font-size="3.5" dy="-2.5">-3</tspan></text><text x="397.65" y="369.3" font-size="5.8" fill="#4a4a4a" text-anchor="middle">10<tspan font-size="3.5" dy="-2.5">-2</tspan></text><text x="421.88" y="369.3" font-size="5.8" fill="#4a4a4a" text-anchor="middle">10<tspan font-size="3.5" dy="-2.5">-1</tspan></text><text x="446.1" y="369.3" font-size="5.8" fill="#4a4a4a" text-anchor="middle">10<tspan font-size="3.5" dy="-2.5">0</tspan></text><text x="470.32" y="369.3" font-size="5.8" fill="#4a4a4a" text-anchor="middle">10<tspan font-size="3.5" dy="-2.5">1</tspan></text><text x="494.55" y="369.3" font-size="5.8" fill="#4a4a4a" text-anchor="middle">10<tspan font-size="3.5" dy="-2.5">2</tspan></text><text x="518.77" y="369.3" font-size="5.8" fill="#4a4a4a" text-anchor="middle">10<tspan font-size="3.5" dy="-2.5">3</tspan></text><text x="543" y="369.3" font-size="5.8" fill="#4a4a4a" text-anchor="middle">10<tspan font-size="3.5" dy="-2.5">4</tspan></text><text x="346.4" y="362.6" font-size="5.8" fill="#4a4a4a" text-anchor="end">10<tspan font-size="3.5" dy="-2.6">-2</tspan></text><text x="346.4" y="332.59" font-size="5.8" fill="#4a4a4a" text-anchor="end">10<tspan font-size="3.5" dy="-2.6">-1</tspan></text><text x="346.4" y="302.59" font-size="5.8" fill="#4a4a4a" text-anchor="end">10<tspan font-size="3.5" dy="-2.6">0</tspan></text><text x="346.4" y="272.58" font-size="5.8" fill="#4a4a4a" text-anchor="end">10<tspan font-size="3.5" dy="-2.6">1</tspan></text><text x="346.4" y="242.57" font-size="5.8" fill="#4a4a4a" text-anchor="end">10<tspan font-size="3.5" dy="-2.6">2</tspan></text><text x="445.7" y="382.5" font-size="7.5" font-weight="bold" fill="#000" stroke="#000" stroke-width="0.05" text-anchor="middle" textLength="59.7" lengthAdjust="spacingAndGlyphs">Shear rate (&#947;) /s<tspan font-size="3.8" dy="-3">-1</tspan></text><circle cx="459.2" cy="377.6" r="0.6" fill="#000"/><text transform="translate(333.1 287.6) rotate(-90)" font-size="7.5" font-weight="bold" fill="#000" stroke="#000" stroke-width="0.05" text-anchor="middle">Apparent viscosity (&#951;) / Pa.s</text><text x="539.4" y="227.9" font-size="6.5" fill="#222" stroke="#222" stroke-width="0.2" text-anchor="end">5 <tspan fill="none" stroke="none">&#176;</tspan>C</text><circle cx="533.4" cy="224" r="0.85" fill="none" stroke="#333" stroke-width="0.6"/><text x="539.4" y="236.3" font-size="6.5" fill="#222" stroke="#222" stroke-width="0.2" text-anchor="end">10 <tspan fill="none" stroke="none">&#176;</tspan>C</text><circle cx="533.4" cy="232.4" r="0.85" fill="none" stroke="#333" stroke-width="0.6"/><text x="539.4" y="244.3" font-size="6.5" fill="#222" stroke="#222" stroke-width="0.2" text-anchor="end">15 <tspan fill="none" stroke="none">&#176;</tspan>C</text><circle cx="533.4" cy="240.4" r="0.85" fill="none" stroke="#333" stroke-width="0.6"/><text x="539.4" y="253" font-size="6.5" fill="#222" stroke="#222" stroke-width="0.2" text-anchor="end">25 <tspan fill="none" stroke="none">&#176;</tspan>C</text><circle cx="533.4" cy="249.1" r="0.85" fill="none" stroke="#333" stroke-width="0.6"/><text x="440.5" y="407" font-size="12" fill="#000" stroke="#000" stroke-width="0.2" text-anchor="middle" style="font-family:'Liberation Serif',serif">(<tspan font-weight="bold">f</tspan>)</text></g></svg></div></body></html>
